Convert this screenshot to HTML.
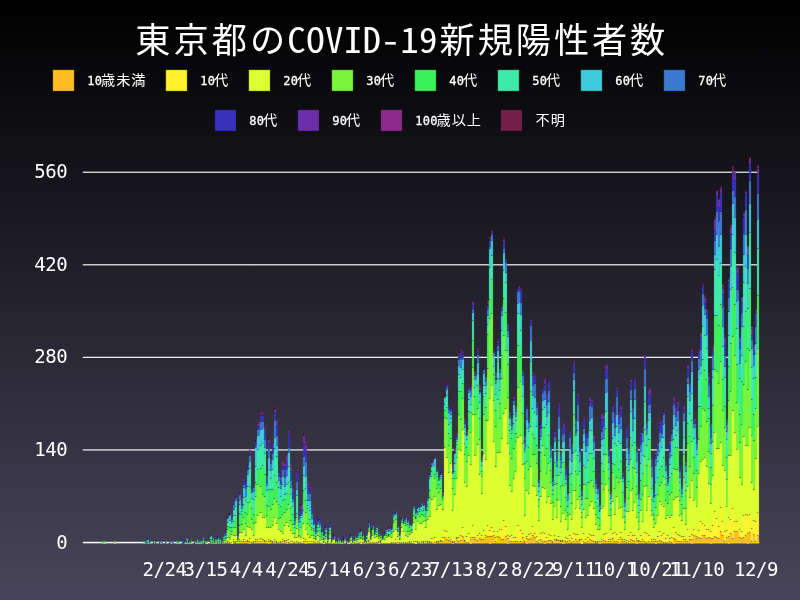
<!DOCTYPE html>
<html lang="ja"><head><meta charset="utf-8"><title>東京都のCOVID-19新規陽性者数</title>
<style>
html,body{margin:0;padding:0;background:#000}
body{width:800px;height:600px;overflow:hidden;position:relative}
svg{display:block;position:absolute;left:0;top:0}
text{fill:#fff;text-anchor:middle;white-space:pre}
.k{font-family:'Noto Sans Mono CJK JP','Noto Sans CJK JP','IPAGothic',sans-serif}
.l{font-family:'Noto Sans Mono CJK JP','Liberation Mono','Noto Sans CJK JP',monospace}
.d{font-family:'DejaVu Sans Mono','Liberation Mono',monospace}
</style></head><body>
<svg width="800" height="600" viewBox="0 0 800 600">
<defs><linearGradient id="bg" x1="0" y1="0" x2="0" y2="1"><stop offset="0" stop-color="#000"/><stop offset="1" stop-color="#48455a"/></linearGradient><filter id="bl" x="0" y="0" width="800" height="600" filterUnits="userSpaceOnUse"><feConvolveMatrix order="3" kernelMatrix="0.0064 0.0672 0.0064 0.0672 0.7056 0.0672 0.0064 0.0672 0.0064" edgeMode="none" preserveAlpha="false"/></filter></defs>
<rect width="800" height="600" fill="url(#bg)"/>
<g fill="#fff">
<rect x="82.8" y="449.31" width="676.2" height="1.25" fill-opacity="0.92"/>
<rect x="82.8" y="356.74" width="676.2" height="1.25" fill-opacity="0.92"/>
<rect x="82.8" y="264.18" width="676.2" height="1.25" fill-opacity="0.92"/>
<rect x="82.8" y="171.61" width="676.2" height="1.25" fill-opacity="0.92"/>
<rect x="82.8" y="541.8" width="676.4" height="1.5"/>
</g>
<g filter="url(#bl)">
<path d="M212 543.6v-0.66h2v0.66zM227 543.1v-0.66h2v0.66zM229 543.1v-0.66h2v0.66zM233 543.1v-1.98h2v1.98zM235 543.1v-0.66h2v0.66zM239 543.1v-1.98h2v1.98zM241 543.1v-1.98h2v1.98zM243 543.1v-1.32h2v1.32zM245 543.1v-1.32h2v1.32zM247 543.1v-1.98h2v1.98zM249 544.1v-2.98h2v2.98zM253 543.1v-0.66h2v0.66zM255 543.1v-1.32h2v1.32zM257 543.1v-1.32h3v1.32zM260 543.1v-1.98h2v1.98zM262 543.1v-3.31h2v3.31zM264 543.1v-1.98h2v1.98zM268 544.1v-2.32h2v2.32zM270 543.1v-1.98h2v1.98zM272 543.1v-0.66h2v0.66zM274 543.1v-1.98h2v1.98zM276 543.1v-0.66h2v0.66zM280 543.1v-0.66h2v0.66zM282 543.1v-1.98h2v1.98zM284 543.1v-1.32h2v1.32zM286 544.1v-1.66h2v1.66zM288 543.1v-0.66h2v0.66zM292 543.1v-1.98h2v1.98zM294 543.1v-0.66h2v0.66zM296 543.1v-1.98h2v1.98zM300 543.1v-0.66h3v0.66zM303 543.1v-1.32h2v1.32zM305 544.1v-2.32h2v2.32zM313 543.1v-1.98h2v1.98zM317 543.1v-1.32h2v1.32zM331 543.6v-0.66h2v0.66zM346 543.9v-0.7h2v0.7zM358 543.1v-0.66h2v0.66zM362 543.1v-0.66h2v0.66zM368 543.1v-1.32h2v1.32zM374 543.1v-0.66h2v0.66zM378 544.1v-1.66h2v1.66zM380 543.1v-0.66h2v0.66zM393 543.1v-0.66h2v0.66zM395 543.1v-0.66h2v0.66zM397 544.1v-1.66h2v1.66zM403 543.1v-0.66h2v0.66zM409 543.1v-0.66h2v0.66zM417 543.1v-0.66h2v0.66zM421 543.1v-1.32h2v1.32zM423 543.1v-0.66h2v0.66zM427 543.1v-0.66h2v0.66zM429 543.1v-0.66h2v0.66zM431 543.1v-0.66h3v0.66zM434 544.1v-1.66h2v1.66zM436 543.1v-0.66h2v0.66zM438 543.1v-0.66h2v0.66zM440 543.1v-1.98h2v1.98zM442 543.1v-1.32h2v1.32zM444 543.1v-5.29h2v5.29zM446 543.1v-3.31h2v3.31zM448 543.1v-2.64h2v2.64zM450 543.1v-1.98h2v1.98zM452 544.1v-1.66h2v1.66zM454 543.1v-0.66h2v0.66zM456 543.1v-4.63h2v4.63zM458 543.1v-1.98h2v1.98zM460 543.1v-2.64h2v2.64zM462 543.1v-6.61h2v6.61zM464 543.1v-1.32h2v1.32zM466 543.1v-0.66h2v0.66zM468 543.1v-0.66h2v0.66zM470 544.1v-4.31h2v4.31zM472 543.1v-5.95h2v5.95zM474 543.1v-3.97h3v3.97zM477 543.1v-2.64h2v2.64zM479 543.1v-4.63h2v4.63zM481 543.1v-3.97h2v3.97zM483 543.1v-3.31h2v3.31zM485 543.1v-5.29h2v5.29zM487 543.1v-6.61h2v6.61zM489 544.1v-7.61h2v7.61zM491 543.1v-6.61h2v6.61zM493 543.1v-7.27h2v7.27zM495 543.1v-1.32h2v1.32zM497 543.1v-6.61h2v6.61zM499 543.1v-5.95h2v5.95zM501 543.1v-3.97h2v3.97zM503 543.1v-3.97h2v3.97zM505 543.1v-6.61h2v6.61zM507 544.1v-5.63h2v5.63zM509 543.1v-1.32h2v1.32zM511 543.1v-1.32h2v1.32zM513 543.1v-1.98h2v1.98zM515 543.1v-1.32h2v1.32zM517 543.1v-1.98h3v1.98zM520 543.1v-1.98h2v1.98zM522 543.1v-5.95h2v5.95zM524 543.1v-0.66h2v0.66zM526 544.1v-5.63h2v5.63zM528 543.1v-3.31h2v3.31zM530 543.1v-4.63h2v4.63zM532 543.1v-7.93h2v7.93zM534 543.1v-5.29h2v5.29zM536 543.1v-1.32h2v1.32zM538 543.1v-0.66h2v0.66zM540 543.1v-3.31h2v3.31zM542 543.1v-1.32h2v1.32zM544 544.1v-2.98h2v2.98zM546 543.1v-1.32h2v1.32zM548 543.1v-2.64h2v2.64zM550 543.1v-2.64h2v2.64zM552 543.1v-0.66h2v0.66zM554 543.1v-3.31h2v3.31zM556 543.1v-2.64h2v2.64zM558 543.1v-2.64h2v2.64zM560 543.1v-1.32h2v1.32zM562 544.1v-2.32h3v2.32zM565 543.1v-1.32h2v1.32zM567 543.1v-1.32h2v1.32zM569 543.1v-2.64h2v2.64zM571 543.1v-0.66h2v0.66zM573 543.1v-1.98h2v1.98zM575 543.1v-3.97h2v3.97zM577 543.1v-1.98h2v1.98zM579 543.1v-2.64h2v2.64zM583 543.1v-1.32h2v1.32zM585 543.1v-0.66h2v0.66zM587 543.1v-1.98h2v1.98zM589 543.1v-3.31h2v3.31zM591 543.1v-2.64h2v2.64zM593 543.1v-1.98h2v1.98zM595 543.1v-0.66h2v0.66zM597 543.1v-0.66h2v0.66zM599 544.1v-2.32h2v2.32zM601 543.1v-1.98h2v1.98zM603 543.1v-2.64h2v2.64zM605 543.1v-1.98h3v1.98zM608 543.1v-1.32h2v1.32zM610 543.1v-1.32h2v1.32zM612 543.1v-4.63h2v4.63zM614 543.1v-1.98h2v1.98zM616 543.1v-1.32h2v1.32zM618 544.1v-1.66h2v1.66zM620 543.1v-5.29h2v5.29zM622 543.1v-1.98h2v1.98zM624 543.1v-1.32h2v1.32zM626 543.1v-0.66h2v0.66zM628 543.1v-1.98h2v1.98zM630 543.1v-3.97h2v3.97zM632 543.1v-2.64h2v2.64zM634 543.1v-1.32h2v1.32zM636 544.1v-3.64h2v3.64zM638 543.1v-1.32h2v1.32zM640 543.1v-1.98h2v1.98zM642 543.1v-1.98h2v1.98zM644 543.1v-1.32h2v1.32zM646 543.1v-0.66h2v0.66zM648 543.1v-1.32h3v1.32zM651 543.1v-1.32h2v1.32zM653 543.1v-1.32h2v1.32zM655 544.1v-2.32h2v2.32zM657 543.1v-1.98h2v1.98zM659 543.1v-2.64h2v2.64zM661 543.1v-1.98h2v1.98zM663 543.1v-0.66h2v0.66zM665 543.1v-0.66h2v0.66zM667 543.1v-0.66h2v0.66zM669 543.1v-1.98h2v1.98zM671 543.1v-0.66h2v0.66zM673 544.1v-5.63h2v5.63zM675 543.1v-3.31h2v3.31zM677 543.1v-1.32h2v1.32zM679 543.1v-1.98h2v1.98zM681 543.1v-1.98h2v1.98zM683 543.1v-3.31h2v3.31zM685 543.1v-1.98h2v1.98zM687 543.1v-1.98h2v1.98zM689 543.1v-3.97h2v3.97zM691 544.1v-4.31h2v4.31zM693 543.1v-7.93h3v7.93zM696 543.1v-4.63h2v4.63zM698 543.1v-5.29h2v5.29zM700 543.1v-4.63h2v4.63zM702 543.1v-7.27h2v7.27zM704 543.1v-7.27h2v7.27zM706 543.1v-4.63h2v4.63zM708 543.1v-5.95h2v5.95zM710 544.1v-5.63h2v5.63zM712 543.1v-4.63h2v4.63zM714 543.1v-6.61h2v6.61zM716 543.1v-5.95h2v5.95zM718 543.1v-4.63h2v4.63zM720 543.1v-11.24h2v11.24zM722 543.1v-7.27h2v7.27zM724 543.1v-1.98h2v1.98zM726 543.1v-5.29h2v5.29zM728 544.1v-7.61h2v7.61zM730 543.1v-9.92h2v9.92zM732 543.1v-4.63h2v4.63zM734 543.1v-11.24h2v11.24zM736 543.1v-11.24h3v11.24zM739 543.1v-5.29h2v5.29zM741 543.1v-4.63h2v4.63zM743 543.1v-5.29h2v5.29zM745 543.1v-7.27h2v7.27zM747 544.1v-10.26h2v10.26zM749 543.1v-10.58h2v10.58zM751 543.1v-1.98h2v1.98zM753 543.1v-8.6h2v8.6zM755 543.1v-1.98h2v1.98zM757 543.1v-7.27h2v7.27z" fill="#FEBE24"/>
<path d="M225 543.1v-0.66h2v0.66zM227 542.44v-0.66h2v0.66zM231 544.1v-1.66h2v1.66zM233 541.12v-1.98h2v1.98zM235 542.44v-0.66h2v0.66zM239 541.12v-1.32h2v1.32zM243 541.78v-1.98h2v1.98zM245 541.78v-0.66h2v0.66zM247 541.12v-0.66h2v0.66zM249 541.12v-2.64h2v2.64zM251 543.1v-0.66h2v0.66zM253 542.44v-0.66h2v0.66zM255 541.78v-1.98h2v1.98zM257 541.78v-2.64h3v2.64zM260 541.12v-2.64h2v2.64zM262 539.79v-0.66h2v0.66zM264 541.12v-0.66h2v0.66zM266 543.1v-1.32h2v1.32zM268 541.78v-1.98h2v1.98zM270 541.12v-0.66h2v0.66zM272 542.44v-0.66h2v0.66zM274 541.12v-1.32h2v1.32zM276 542.44v-0.66h2v0.66zM278 543.1v-0.66h2v0.66zM280 542.44v-1.32h2v1.32zM282 541.12v-1.32h2v1.32zM284 541.78v-1.32h2v1.32zM286 542.44v-1.98h2v1.98zM288 542.44v-2.64h2v2.64zM290 543.1v-1.98h2v1.98zM296 541.12v-3.31h2v3.31zM298 543.1v-0.66h2v0.66zM303 541.78v-3.31h2v3.31zM305 541.78v-1.98h2v1.98zM307 543.1v-1.98h2v1.98zM309 543.1v-1.98h2v1.98zM311 543.1v-1.32h2v1.32zM315 543.1v-0.66h2v0.66zM317 541.78v-0.66h2v0.66zM319 543.1v-0.66h2v0.66zM325 543.1v-0.66h2v0.66zM331 542.94v-0.66h2v0.66zM337 543.1v-0.66h2v0.66zM341 543.6v-0.66h2v0.66zM343 543.1v-0.66h3v0.66zM354 543.1v-0.66h2v0.66zM360 544.1v-1.66h2v1.66zM366 543.1v-0.66h2v0.66zM368 541.78v-1.32h2v1.32zM370 543.1v-0.66h2v0.66zM372 543.1v-0.66h2v0.66zM376 543.1v-0.66h2v0.66zM378 542.44v-0.66h2v0.66zM380 542.44v-0.66h2v0.66zM391 543.1v-0.66h2v0.66zM395 542.44v-3.31h2v3.31zM399 543.1v-0.66h2v0.66zM401 543.1v-0.66h2v0.66zM405 543.1v-0.66h2v0.66zM407 543.1v-0.66h2v0.66zM409 542.44v-0.66h2v0.66zM411 543.1v-0.66h2v0.66zM413 543.1v-1.32h2v1.32zM415 544.1v-2.32h2v2.32zM417 542.44v-0.66h2v0.66zM419 543.1v-0.66h2v0.66zM421 541.78v-0.66h2v0.66zM423 542.44v-1.32h2v1.32zM425 543.1v-1.32h2v1.32zM427 542.44v-1.32h2v1.32zM429 542.44v-0.66h2v0.66zM431 542.44v-3.97h3v3.97zM434 542.44v-4.63h2v4.63zM436 542.44v-0.66h2v0.66zM438 542.44v-0.66h2v0.66zM440 541.12v-0.66h2v0.66zM442 541.78v-3.97h2v3.97zM444 537.81v-7.27h2v7.27zM446 539.79v-7.93h2v7.93zM448 540.46v-2.64h2v2.64zM450 541.12v-1.98h2v1.98zM452 542.44v-1.32h2v1.32zM454 542.44v-1.32h2v1.32zM456 538.47v-1.32h2v1.32zM458 541.12v-3.97h2v3.97zM460 540.46v-4.63h2v4.63zM462 536.49v-9.26h2v9.26zM464 541.78v-1.32h2v1.32zM466 542.44v-5.95h2v5.95zM468 542.44v-9.26h2v9.26zM470 539.79v-2.64h2v2.64zM472 537.15v-11.9h2v11.9zM474 539.13v-1.98h3v1.98zM477 540.46v-5.29h2v5.29zM479 538.47v-4.63h2v4.63zM481 539.13v-3.97h2v3.97zM483 539.79v-9.26h2v9.26zM485 537.81v-1.98h2v1.98zM487 536.49v-10.58h2v10.58zM489 536.49v-5.95h2v5.95zM491 536.49v-9.26h2v9.26zM493 535.83v-4.63h2v4.63zM495 541.78v-3.97h2v3.97zM497 536.49v-5.29h2v5.29zM499 537.15v-7.27h2v7.27zM501 539.13v-9.26h2v9.26zM503 539.13v-18.51h2v18.51zM505 536.49v-9.92h2v9.92zM507 538.47v-3.31h2v3.31zM509 541.78v-5.29h2v5.29zM511 541.78v-5.95h2v5.95zM513 541.12v-3.97h2v3.97zM515 541.78v-3.97h2v3.97zM517 541.12v-15.87h3v15.87zM520 541.12v-10.58h2v10.58zM522 537.15v-3.31h2v3.31zM524 542.44v-1.32h2v1.32zM526 538.47v-1.98h2v1.98zM528 539.79v-5.29h2v5.29zM530 538.47v-5.29h2v5.29zM532 535.17v-8.6h2v8.6zM534 537.81v-4.63h2v4.63zM536 541.78v-5.29h2v5.29zM538 542.44v-1.98h2v1.98zM540 539.79v-6.61h2v6.61zM542 541.78v-9.26h2v9.26zM544 541.12v-7.93h2v7.93zM546 541.78v-3.97h2v3.97zM548 540.46v-5.95h2v5.95zM550 540.46v-4.63h2v4.63zM552 542.44v-1.32h2v1.32zM554 539.79v-4.63h2v4.63zM556 540.46v-1.32h2v1.32zM558 540.46v-3.97h2v3.97zM560 541.78v-1.32h2v1.32zM562 541.78v-1.32h3v1.32zM565 541.78v-3.97h2v3.97zM567 541.78v-3.31h2v3.31zM569 540.46v-4.63h2v4.63zM571 542.44v-3.97h2v3.97zM573 541.12v-7.93h2v7.93zM575 539.13v-4.63h2v4.63zM577 541.12v-6.61h2v6.61zM579 540.46v-1.32h2v1.32zM581 544.1v-4.31h2v4.31zM583 541.78v-8.6h2v8.6zM585 542.44v-2.64h2v2.64zM587 541.12v-3.31h2v3.31zM589 539.79v-5.29h2v5.29zM591 540.46v-5.29h2v5.29zM593 541.12v-5.95h2v5.95zM595 542.44v-1.32h2v1.32zM597 542.44v-1.32h2v1.32zM599 541.78v-0.66h2v0.66zM601 541.12v-1.98h2v1.98zM603 540.46v-5.95h2v5.95zM605 541.12v-7.93h3v7.93zM608 541.78v-2.64h2v2.64zM610 541.78v-1.98h2v1.98zM612 538.47v-5.29h2v5.29zM614 541.12v-8.6h2v8.6zM616 541.78v-7.27h2v7.27zM618 542.44v-3.31h2v3.31zM620 537.81v-5.29h2v5.29zM622 541.12v-1.98h2v1.98zM624 541.78v-1.98h2v1.98zM626 542.44v-1.98h2v1.98zM628 541.12v-5.29h2v5.29zM630 539.13v-6.61h2v6.61zM632 540.46v-5.29h2v5.29zM634 541.78v-5.95h2v5.95zM636 540.46v-1.98h2v1.98zM638 541.78v-1.32h2v1.32zM640 541.12v-5.29h2v5.29zM642 541.12v-1.32h2v1.32zM644 541.78v-9.26h2v9.26zM646 542.44v-9.26h2v9.26zM648 541.78v-5.95h3v5.95zM651 541.78v-1.98h2v1.98zM653 541.78v-2.64h2v2.64zM655 541.78v-2.64h2v2.64zM657 541.12v-4.63h2v4.63zM659 540.46v-9.26h2v9.26zM661 541.12v-5.95h2v5.95zM663 542.44v-8.6h2v8.6zM665 542.44v-3.97h2v3.97zM667 542.44v-6.61h2v6.61zM669 541.12v-2.64h2v2.64zM671 542.44v-5.29h2v5.29zM673 538.47v-11.24h2v11.24zM675 539.79v-7.27h2v7.27zM677 541.78v-7.27h2v7.27zM679 541.12v-5.29h2v5.29zM681 541.12v-4.63h2v4.63zM683 539.79v-3.31h2v3.31zM685 541.12v-1.32h2v1.32zM687 541.12v-11.24h2v11.24zM689 539.13v-2.64h2v2.64zM691 539.79v-5.29h2v5.29zM693 535.17v-5.95h3v5.95zM696 538.47v-1.98h2v1.98zM698 537.81v-7.27h2v7.27zM700 538.47v-16.53h2v16.53zM702 535.83v-11.9h2v11.9zM704 535.83v-10.58h2v10.58zM706 538.47v-8.6h2v8.6zM708 537.15v-7.27h2v7.27zM710 538.47v-7.27h2v7.27zM712 538.47v-13.22h2v13.22zM714 536.49v-25.13h2v25.13zM716 537.15v-18.51h2v18.51zM718 538.47v-11.9h2v11.9zM720 531.86v-24.46h2v24.46zM722 535.83v-13.89h2v13.89zM724 541.12v-9.92h2v9.92zM726 537.81v-7.27h2v7.27zM728 536.49v-18.51h2v18.51zM730 533.18v-13.22h2v13.22zM732 538.47v-29.75h2v29.75zM734 531.86v-10.58h2v10.58zM736 531.86v-10.58h3v10.58zM739 537.81v-8.6h2v8.6zM741 538.47v-7.27h2v7.27zM743 537.81v-21.82h2v21.82zM745 535.83v-21.16h2v21.16zM747 533.84v-17.85h2v17.85zM749 532.52v-18.51h2v18.51zM751 541.12v-12.56h2v12.56zM753 534.5v-13.89h2v13.89zM755 541.12v-19.84h2v19.84zM757 535.83v-23.8h2v23.8z" fill="#FFF22D"/>
<path d="M159 543.9v-0.7h2v0.7zM165 543.9v-0.7h2v0.7zM186 543.6v-0.66h2v0.66zM190 543.6v-0.66h2v0.66zM196 543.6v-0.66h2v0.66zM206 543.9v-1.05h2v1.05zM210 543.1v-0.66h2v0.66zM217 543.1v-0.66h2v0.66zM223 543.1v-0.66h2v0.66zM225 542.44v-1.98h2v1.98zM227 541.78v-3.97h2v3.97zM229 542.44v-3.31h2v3.31zM231 542.44v-7.93h2v7.93zM233 539.13v-3.31h2v3.31zM235 541.78v-6.61h2v6.61zM237 543.1v-1.32h2v1.32zM239 539.79v-7.27h2v7.27zM241 541.12v-8.6h2v8.6zM243 539.79v-10.58h2v10.58zM245 541.12v-5.95h2v5.95zM247 540.46v-13.89h2v13.89zM249 538.47v-11.24h2v11.24zM251 542.44v-13.22h2v13.22zM253 541.78v-6.61h2v6.61zM255 539.79v-17.19h2v17.19zM257 539.13v-23.14h3v23.14zM260 538.47v-25.79h2v25.79zM262 539.13v-21.16h2v21.16zM264 540.46v-22.48h2v22.48zM266 541.78v-13.89h2v13.89zM268 539.79v-12.56h2v12.56zM270 540.46v-13.22h2v13.22zM272 541.78v-16.53h2v16.53zM274 539.79v-21.82h2v21.82zM276 541.78v-18.51h2v18.51zM278 542.44v-13.22h2v13.22zM280 541.12v-9.26h2v9.26zM282 539.79v-6.61h2v6.61zM284 540.46v-15.21h2v15.21zM286 540.46v-17.85h2v17.85zM288 539.79v-13.22h2v13.22zM290 541.12v-10.58h2v10.58zM292 541.12v-7.27h2v7.27zM294 542.44v-4.63h2v4.63zM296 537.81v-9.26h2v9.26zM298 542.44v-5.95h2v5.95zM300 542.44v-5.29h3v5.29zM303 538.47v-14.55h2v14.55zM305 539.79v-9.92h2v9.92zM307 541.12v-6.61h2v6.61zM309 541.12v-3.31h2v3.31zM311 541.78v-5.95h2v5.95zM313 541.12v-2.64h2v2.64zM315 542.44v-2.64h2v2.64zM317 541.12v-5.29h2v5.29zM319 542.44v-1.98h2v1.98zM321 543.1v-3.31h2v3.31zM323 544.1v-1.66h2v1.66zM325 542.44v-3.97h2v3.97zM327 543.1v-0.66h2v0.66zM329 543.1v-4.63h2v4.63zM331 542.28v-0.66h2v0.66zM333 543.1v-3.97h2v3.97zM335 543.6v-0.66h2v0.66zM337 542.44v-0.66h2v0.66zM339 543.6v-0.66h2v0.66zM341 542.94v-0.66h2v0.66zM343 542.44v-0.66h3v0.66zM346 543.2v-0.7h2v0.7zM348 543.9v-1.05h2v1.05zM350 543.1v-2.64h2v2.64zM352 543.6v-1.32h2v1.32zM354 542.44v-1.98h2v1.98zM356 543.1v-1.32h2v1.32zM358 542.44v-3.31h2v3.31zM360 542.44v-3.97h2v3.97zM362 542.44v-3.31h2v3.31zM364 543.6v-1.32h2v1.32zM366 542.44v-1.32h2v1.32zM368 540.46v-8.6h2v8.6zM370 542.44v-3.31h2v3.31zM372 542.44v-7.27h2v7.27zM374 542.44v-4.63h2v4.63zM376 542.44v-5.95h2v5.95zM378 541.78v-3.31h2v3.31zM380 541.78v-1.32h2v1.32zM382 543.1v-3.97h2v3.97zM384 543.1v-3.31h2v3.31zM386 543.1v-5.29h2v5.29zM388 543.1v-6.61h3v6.61zM391 542.44v-4.63h2v4.63zM393 542.44v-10.58h2v10.58zM395 539.13v-9.92h2v9.92zM397 542.44v-5.95h2v5.95zM399 542.44v-2.64h2v2.64zM401 542.44v-14.55h2v14.55zM403 542.44v-10.58h2v10.58zM405 542.44v-7.27h2v7.27zM407 542.44v-5.95h2v5.95zM409 541.78v-7.27h2v7.27zM411 542.44v-9.92h2v9.92zM413 541.78v-19.17h2v19.17zM415 541.78v-12.56h2v12.56zM417 541.78v-20.5h2v20.5zM419 542.44v-18.51h2v18.51zM421 541.12v-17.19h2v17.19zM423 541.12v-19.84h2v19.84zM425 541.78v-14.55h2v14.55zM427 541.12v-21.82h2v21.82zM429 541.78v-25.13h2v25.13zM431 538.47v-39.01h3v39.01zM434 537.81v-41.66h2v41.66zM436 541.78v-32.4h2v32.4zM438 541.78v-36.37h2v36.37zM440 540.46v-35.7h2v35.7zM442 537.81v-28.43h2v28.43zM444 530.54v-82.65h2v82.65zM446 531.86v-74.05h2v74.05zM448 537.81v-65.46h2v65.46zM450 539.13v-76.04h2v76.04zM452 541.12v-31.08h2v31.08zM454 541.12v-46.28h2v46.28zM456 537.15v-58.19h2v58.19zM458 537.15v-87.94h2v87.94zM460 535.83v-85.29h2v85.29zM462 527.23v-97.86h2v97.86zM464 540.46v-57.52h2v57.52zM466 536.49v-50.25h2v50.25zM468 533.18v-77.36h2v77.36zM470 537.15v-72.73h2v72.73zM472 525.25v-110.42h2v110.42zM474 537.15v-81.99h3v81.99zM477 535.17v-90.58h2v90.58zM479 533.84v-59.51h2v59.51zM481 535.17v-41.66h2v41.66zM483 530.54v-77.36h2v77.36zM485 535.83v-76.04h2v76.04zM487 525.91v-105.13h2v105.13zM489 530.54v-132.24h2v132.24zM491 527.23v-142.16h2v142.16zM493 531.2v-89.26h2v89.26zM495 537.81v-71.41h2v71.41zM497 531.2v-78.68h2v78.68zM499 529.88v-77.36h2v77.36zM501 529.88v-91.25h2v91.25zM503 520.62v-107.11h2v107.11zM505 526.57v-118.35h2v118.35zM507 535.17v-91.91h2v91.91zM509 536.49v-50.91h2v50.91zM511 535.83v-44.3h2v44.3zM513 537.15v-58.19h2v58.19zM515 537.81v-66.78h2v66.78zM517 525.25v-87.94h3v87.94zM520 530.54v-94.55h2v94.55zM522 533.84v-69.43h2v69.43zM524 541.12v-25.79h2v25.79zM526 536.49v-46.28h2v46.28zM528 534.5v-40.99h2v40.99zM530 533.18v-66.78h2v66.78zM532 526.57v-40.99h2v40.99zM534 533.18v-46.28h2v46.28zM536 536.49v-40.99h2v40.99zM538 540.46v-19.84h2v19.84zM540 533.18v-36.37h2v36.37zM542 532.52v-44.96h2v44.96zM544 533.18v-44.96h2v44.96zM546 537.81v-35.7h2v35.7zM548 534.5v-38.35h2v38.35zM550 535.83v-32.4h2v32.4zM552 541.12v-21.82h2v21.82zM554 535.17v-29.09h2v29.09zM556 539.13v-21.82h2v21.82zM558 536.49v-36.37h2v36.37zM560 540.46v-19.17h2v19.17zM562 540.46v-27.11h3v27.11zM565 537.81v-17.85h2v17.85zM567 538.47v-8.6h2v8.6zM569 535.83v-21.16h2v21.16zM571 538.47v-19.17h2v19.17zM573 533.18v-42.98h2v42.98zM575 534.5v-26.45h2v26.45zM577 534.5v-35.04h2v35.04zM579 539.13v-30.42h2v30.42zM581 539.79v-11.9h2v11.9zM583 533.18v-23.8h2v23.8zM585 539.79v-21.82h2v21.82zM587 537.81v-22.48h2v22.48zM589 534.5v-29.09h2v29.09zM591 535.17v-33.72h2v33.72zM593 535.17v-26.45h2v26.45zM595 541.12v-16.53h2v16.53zM597 541.12v-11.24h2v11.24zM599 541.12v-11.9h2v11.9zM601 539.13v-30.42h2v30.42zM603 534.5v-28.43h2v28.43zM605 533.18v-48.27h3v48.27zM608 539.13v-23.8h2v23.8zM610 539.79v-10.58h2v10.58zM612 533.18v-31.74h2v31.74zM614 532.52v-17.85h2v17.85zM616 534.5v-37.69h2v37.69zM618 539.13v-31.08h2v31.08zM620 532.52v-25.13h2v25.13zM622 539.13v-21.16h2v21.16zM624 539.79v-10.58h2v10.58zM626 540.46v-29.09h2v29.09zM628 535.83v-24.46h2v24.46zM630 532.52v-41.66h2v41.66zM632 535.17v-24.46h2v24.46zM634 535.83v-33.72h2v33.72zM636 538.47v-21.16h2v21.16zM638 540.46v-10.58h2v10.58zM640 535.83v-25.13h2v25.13zM642 539.79v-17.85h2v17.85zM644 532.52v-45.62h2v45.62zM646 533.18v-23.14h2v23.14zM648 535.83v-39.67h3v39.67zM651 539.79v-23.8h2v23.8zM653 539.13v-11.24h2v11.24zM655 539.13v-15.87h2v15.87zM657 536.49v-21.16h2v21.16zM659 531.2v-29.75h2v29.75zM661 535.17v-31.08h2v31.08zM663 533.84v-27.11h2v27.11zM665 538.47v-19.84h2v19.84zM667 535.83v-20.5h2v20.5zM669 538.47v-21.16h2v21.16zM671 537.15v-21.82h2v21.82zM673 527.23v-27.77h2v27.77zM675 532.52v-35.04h2v35.04zM677 534.5v-37.69h2v37.69zM679 535.83v-19.84h2v19.84zM681 536.49v-15.87h2v15.87zM683 536.49v-27.77h2v27.77zM685 539.79v-15.21h2v15.21zM687 529.88v-42.98h2v42.98zM689 536.49v-39.01h2v39.01zM691 534.5v-54.22h2v54.22zM693 529.21v-29.09h3v29.09zM696 536.49v-30.42h2v30.42zM698 530.54v-56.86h2v56.86zM700 521.94v-60.17h2v60.17zM702 523.93v-64.8h2v64.8zM704 525.25v-68.1h2v68.1zM706 529.88v-63.48h2v63.48zM708 529.88v-46.28h2v46.28zM710 531.2v-27.77h2v27.77zM712 525.25v-49.59h2v49.59zM714 511.36v-79.34h2v79.34zM716 518.64v-70.09h2v70.09zM718 526.57v-78.02h2v78.02zM720 507.4v-64.8h2v64.8zM722 521.94v-56.2h2v56.2zM724 531.2v-60.83h2v60.83zM726 530.54v-24.46h2v24.46zM728 517.97v-62.15h2v62.15zM730 519.96v-64.8h2v64.8zM732 508.72v-97.86h2v97.86zM734 521.28v-88.6h2v88.6zM736 521.28v-72.07h3v72.07zM739 529.21v-51.57h2v51.57zM741 531.2v-46.95h2v46.95zM743 515.99v-79.34h2v79.34zM745 514.67v-68.76h2v68.76zM747 515.99v-70.75h2v70.75zM749 514.01v-86.62h2v86.62zM751 528.55v-45.62h2v45.62zM753 520.62v-31.08h2v31.08zM755 521.28v-62.81h2v62.81zM757 512.02v-85.96h2v85.96z" fill="#DDFF33"/>
<path d="M104 543.9v-2.1h2v2.1zM114 543.9v-2.1h2v2.1zM143 543.9v-2.1h2v2.1zM153 543.9v-0.7h2v0.7zM178 543.9v-1.05h2v1.05zM184 543.6v-0.66h2v0.66zM190 542.94v-1.32h2v1.32zM196 542.94v-0.66h2v0.66zM202 543.1v-0.66h2v0.66zM206 542.85v-1.05h2v1.05zM210 542.44v-0.66h2v0.66zM214 543.6v-0.66h3v0.66zM217 542.44v-1.32h2v1.32zM219 543.6v-1.32h2v1.32zM223 542.44v-1.98h2v1.98zM225 540.46v-1.98h2v1.98zM227 537.81v-7.93h2v7.93zM229 539.13v-1.98h2v1.98zM231 534.5v-3.31h2v3.31zM233 535.83v-7.93h2v7.93zM235 535.17v-7.27h2v7.27zM237 541.78v-0.66h2v0.66zM239 532.52v-7.27h2v7.27zM241 532.52v-7.93h2v7.93zM243 529.21v-11.24h2v11.24zM245 535.17v-11.24h2v11.24zM247 526.57v-12.56h2v12.56zM249 527.23v-25.13h2v25.13zM251 529.21v-9.92h2v9.92zM253 535.17v-11.9h2v11.9zM255 522.6v-26.45h2v26.45zM257 515.99v-31.74h3v31.74zM260 512.68v-26.45h2v26.45zM262 517.97v-23.14h2v23.14zM264 517.97v-21.16h2v21.16zM266 527.89v-11.9h2v11.9zM268 527.23v-20.5h2v20.5zM270 527.23v-17.85h2v17.85zM272 525.25v-20.5h2v20.5zM274 517.97v-19.84h2v19.84zM276 523.26v-21.82h2v21.82zM278 529.21v-10.58h2v10.58zM280 531.86v-13.89h2v13.89zM282 533.18v-19.17h2v19.17zM284 525.25v-12.56h2v12.56zM286 522.6v-13.22h2v13.22zM288 526.57v-22.48h2v22.48zM290 530.54v-9.92h2v9.92zM292 533.84v-9.26h2v9.26zM294 537.81v-3.97h2v3.97zM296 528.55v-10.58h2v10.58zM298 536.49v-1.32h2v1.32zM300 537.15v-9.26h3v9.26zM303 523.93v-13.89h2v13.89zM305 529.88v-17.19h2v17.19zM307 534.5v-11.24h2v11.24zM309 537.81v-12.56h2v12.56zM311 535.83v-5.95h2v5.95zM313 538.47v-3.31h2v3.31zM315 539.79v-1.32h2v1.32zM317 535.83v-3.97h2v3.97zM319 540.46v-3.97h2v3.97zM321 539.79v-2.64h2v2.64zM323 542.44v-1.32h2v1.32zM325 538.47v-1.98h2v1.98zM327 542.44v-0.66h2v0.66zM329 538.47v-4.63h2v4.63zM333 539.13v-0.66h2v0.66zM335 542.94v-0.66h2v0.66zM337 541.78v-0.66h2v0.66zM339 542.94v-0.66h2v0.66zM341 542.28v-0.66h2v0.66zM343 541.78v-1.32h3v1.32zM350 540.46v-2.64h2v2.64zM352 542.28v-0.66h2v0.66zM354 540.46v-1.32h2v1.32zM356 541.78v-0.66h2v0.66zM358 539.13v-1.98h2v1.98zM360 538.47v-1.32h2v1.32zM362 539.13v-0.66h2v0.66zM366 541.12v-2.64h2v2.64zM368 531.86v-1.98h2v1.98zM370 539.13v-0.66h2v0.66zM372 535.17v-5.29h2v5.29zM374 537.81v-3.31h2v3.31zM376 536.49v-1.98h2v1.98zM378 538.47v-1.98h2v1.98zM380 540.46v-3.31h2v3.31zM382 539.13v-0.66h2v0.66zM384 539.79v-3.97h2v3.97zM386 537.81v-2.64h2v2.64zM388 536.49v-1.32h3v1.32zM391 537.81v-3.97h2v3.97zM393 531.86v-9.26h2v9.26zM395 529.21v-9.92h2v9.92zM397 536.49v-4.63h2v4.63zM399 539.79v-1.32h2v1.32zM401 527.89v-5.29h2v5.29zM403 531.86v-7.93h2v7.93zM405 535.17v-9.92h2v9.92zM407 536.49v-5.29h2v5.29zM409 534.5v-2.64h2v2.64zM411 532.52v-1.98h2v1.98zM413 522.6v-7.27h2v7.27zM415 529.21v-10.58h2v10.58zM417 521.28v-6.61h2v6.61zM419 523.93v-7.27h2v7.27zM421 523.93v-9.26h2v9.26zM423 521.28v-5.29h2v5.29zM425 527.23v-6.61h2v6.61zM427 519.3v-8.6h2v8.6zM429 516.65v-19.17h2v19.17zM431 499.46v-22.48h3v22.48zM434 496.15v-17.19h2v17.19zM436 509.38v-20.5h2v20.5zM438 505.41v-12.56h2v12.56zM440 504.75v-15.87h2v15.87zM442 509.38v-9.92h2v9.92zM444 447.89v-30.42h2v30.42zM446 457.81v-39.67h2v39.67zM448 472.35v-26.45h2v26.45zM450 463.09v-24.46h2v24.46zM452 510.04v-21.16h2v21.16zM454 494.83v-15.87h2v15.87zM456 478.96v-21.82h2v21.82zM458 449.21v-34.38h2v34.38zM460 450.53v-31.08h2v31.08zM462 429.37v-30.42h2v30.42zM464 482.93v-28.43h2v28.43zM466 486.24v-24.46h2v24.46zM468 455.82v-27.77h2v27.77zM470 464.42v-32.4h2v32.4zM472 414.83v-46.95h2v46.95zM474 455.16v-40.33h3v40.33zM477 444.58v-36.37h2v36.37zM479 474.34v-35.04h2v35.04zM481 493.51v-16.53h2v16.53zM483 453.18v-38.35h2v38.35zM485 459.79v-39.01h2v39.01zM487 420.78v-52.23h2v52.23zM489 398.3v-80.01h2v80.01zM491 385.07v-72.07h2v72.07zM493 441.94v-40.99h2v40.99zM495 466.4v-39.67h2v39.67zM497 452.52v-52.9h2v52.9zM499 452.52v-33.72h2v33.72zM501 438.63v-60.17h2v60.17zM503 413.5v-78.02h2v78.02zM505 408.22v-58.19h2v58.19zM507 443.26v-45.62h2v45.62zM509 485.58v-32.4h2v32.4zM511 491.53v-33.06h2v33.06zM513 478.96v-30.42h2v30.42zM515 471.03v-29.09h2v29.09zM517 437.31v-49.59h3v49.59zM520 435.99v-54.88h2v54.88zM522 464.42v-21.16h2v21.16zM524 515.33v-36.37h2v36.37zM526 490.2v-28.43h2v28.43zM528 493.51v-24.46h2v24.46zM530 466.4v-39.67h2v39.67zM532 485.58v-31.08h2v31.08zM534 486.9v-32.4h2v32.4zM536 495.49v-31.74h2v31.74zM538 520.62v-14.55h2v14.55zM540 496.82v-25.79h2v25.79zM542 487.56v-41.66h2v41.66zM544 488.22v-32.4h2v32.4zM546 502.11v-29.09h2v29.09zM548 496.15v-33.06h2v33.06zM550 503.43v-20.5h2v20.5zM552 519.3v-16.53h2v16.53zM554 506.07v-21.82h2v21.82zM556 517.31v-17.85h2v17.85zM558 500.12v-24.46h2v24.46zM560 521.28v-14.55h2v14.55zM562 513.35v-27.77h3v27.77zM565 519.96v-9.92h2v9.92zM567 529.88v-14.55h2v14.55zM569 514.67v-21.82h2v21.82zM571 519.3v-15.87h2v15.87zM573 490.2v-37.69h2v37.69zM575 508.06v-17.85h2v17.85zM577 499.46v-24.46h2v24.46zM579 508.72v-12.56h2v12.56zM581 527.89v-9.92h2v9.92zM583 509.38v-25.13h2v25.13zM585 517.97v-19.84h2v19.84zM587 515.33v-16.53h2v16.53zM589 505.41v-22.48h2v22.48zM591 501.44v-20.5h2v20.5zM593 508.72v-22.48h2v22.48zM595 524.59v-9.92h2v9.92zM597 529.88v-12.56h2v12.56zM599 529.21v-3.97h2v3.97zM601 508.72v-25.13h2v25.13zM603 506.07v-16.53h2v16.53zM605 484.91v-30.42h3v30.42zM608 515.33v-24.46h2v24.46zM610 529.21v-13.89h2v13.89zM612 501.44v-29.09h2v29.09zM614 514.67v-25.79h2v25.79zM616 496.82v-19.17h2v19.17zM618 508.06v-25.13h2v25.13zM620 507.4v-28.43h2v28.43zM622 517.97v-11.9h2v11.9zM624 529.21v-6.61h2v6.61zM626 511.36v-23.8h2v23.8zM628 511.36v-13.22h2v13.22zM630 490.87v-31.74h2v31.74zM632 510.7v-21.82h2v21.82zM634 502.11v-33.72h2v33.72zM636 517.31v-23.14h2v23.14zM638 529.88v-7.93h2v7.93zM640 510.7v-11.24h2v11.24zM642 521.94v-27.77h2v27.77zM644 486.9v-30.42h2v30.42zM646 510.04v-24.46h2v24.46zM648 496.15v-37.03h3v37.03zM651 515.99v-5.29h2v5.29zM653 527.89v-8.6h2v8.6zM655 523.26v-15.87h2v15.87zM657 515.33v-21.16h2v21.16zM659 501.44v-15.87h2v15.87zM661 504.09v-21.16h2v21.16zM663 506.73v-29.75h2v29.75zM665 518.64v-17.85h2v17.85zM667 515.33v-11.9h2v11.9zM669 517.31v-22.48h2v22.48zM671 515.33v-22.48h2v22.48zM673 499.46v-31.08h2v31.08zM675 497.48v-27.77h2v27.77zM677 496.82v-27.11h2v27.11zM679 515.99v-15.21h2v15.21zM681 520.62v-7.27h2v7.27zM683 508.72v-31.08h2v31.08zM685 524.59v-15.87h2v15.87zM687 486.9v-43.64h2v43.64zM689 497.48v-31.08h2v31.08zM691 480.29v-38.35h2v38.35zM693 500.12v-26.45h3v26.45zM696 506.07v-18.51h2v18.51zM698 473.67v-33.72h2v33.72zM700 461.77v-35.04h2v35.04zM702 459.13v-50.91h2v50.91zM704 457.14v-46.28h2v46.28zM706 466.4v-44.96h2v44.96zM708 483.59v-32.4h2v32.4zM710 503.43v-18.51h2v18.51zM712 475.66v-34.38h2v34.38zM714 432.02v-62.15h2v62.15zM716 448.55v-77.36h2v77.36zM718 448.55v-65.46h2v65.46zM720 442.6v-80.67h2v80.67zM722 465.74v-54.88h2v54.88zM724 470.37v-42.98h2v42.98zM726 506.07v-26.45h2v26.45zM728 455.82v-54.88h2v54.88zM730 455.16v-64.14h2v64.14zM732 410.86v-74.72h2v74.72zM734 432.68v-77.36h2v77.36zM736 449.21v-46.28h3v46.28zM739 477.64v-35.04h2v35.04zM741 484.25v-60.17h2v60.17zM743 436.65v-52.23h2v52.23zM745 445.9v-84.63h2v84.63zM747 445.24v-55.54h2v55.54zM749 427.39v-76.7h2v76.7zM751 482.93v-46.95h2v46.95zM753 489.54v-48.93h2v48.93zM755 458.47v-49.59h2v49.59zM757 426.07v-78.02h2v78.02z" fill="#77F53A"/>
<path d="M102 543.9v-2.1h2v2.1zM147 543.6v-0.66h2v0.66zM153 543.2v-0.7h2v0.7zM176 543.9v-2.1h2v2.1zM186 542.94v-1.32h2v1.32zM194 543.9v-0.7h2v0.7zM196 542.28v-0.66h2v0.66zM200 543.9v-1.05h2v1.05zM202 542.44v-1.98h2v1.98zM204 543.9v-0.7h2v0.7zM210 541.78v-2.64h2v2.64zM212 542.94v-1.98h2v1.98zM214 542.94v-1.32h3v1.32zM217 541.12v-1.32h2v1.32zM219 542.28v-0.66h2v0.66zM221 543.9v-0.7h2v0.7zM223 540.46v-1.98h2v1.98zM225 538.47v-0.66h2v0.66zM227 529.88v-3.31h2v3.31zM229 537.15v-9.92h2v9.92zM231 531.2v-3.31h2v3.31zM233 527.89v-6.61h2v6.61zM235 527.89v-11.9h2v11.9zM237 541.12v-1.32h2v1.32zM239 525.25v-11.9h2v11.9zM241 524.59v-10.58h2v10.58zM243 517.97v-13.22h2v13.22zM245 523.93v-11.9h2v11.9zM247 514.01v-11.24h2v11.24zM249 502.11v-15.87h2v15.87zM251 519.3v-11.24h2v11.24zM253 523.26v-9.26h2v9.26zM255 496.15v-13.89h2v13.89zM257 484.25v-15.21h3v15.21zM260 486.24v-17.85h2v17.85zM262 494.83v-29.09h2v29.09zM264 496.82v-22.48h2v22.48zM266 515.99v-10.58h2v10.58zM268 506.73v-17.19h2v17.19zM270 509.38v-19.84h2v19.84zM272 504.75v-15.21h2v15.21zM274 498.14v-22.48h2v22.48zM276 501.44v-19.17h2v19.17zM278 518.64v-13.89h2v13.89zM280 517.97v-11.9h2v11.9zM282 514.01v-13.89h2v13.89zM284 512.68v-13.22h2v13.22zM286 509.38v-15.87h2v15.87zM288 504.09v-21.16h2v21.16zM290 520.62v-11.9h2v11.9zM292 524.59v-9.92h2v9.92zM294 533.84v-5.95h2v5.95zM296 517.97v-4.63h2v4.63zM298 535.17v-5.29h2v5.29zM300 527.89v-5.95h3v5.95zM303 510.04v-19.17h2v19.17zM305 512.68v-11.9h2v11.9zM307 523.26v-14.55h2v14.55zM309 525.25v-5.95h2v5.95zM311 529.88v-1.98h2v1.98zM313 535.17v-4.63h2v4.63zM315 538.47v-1.98h2v1.98zM317 531.86v-4.63h2v4.63zM319 536.49v-5.95h2v5.95zM321 537.15v-2.64h2v2.64zM323 541.12v-1.98h2v1.98zM325 536.49v-3.31h2v3.31zM327 541.78v-0.66h2v0.66zM329 533.84v-3.31h2v3.31zM331 541.62v-0.66h2v0.66zM333 538.47v-0.66h2v0.66zM335 542.28v-0.66h2v0.66zM337 541.12v-0.66h2v0.66zM339 542.28v-1.32h2v1.32zM343 540.46v-0.66h3v0.66zM350 537.81v-0.66h2v0.66zM352 541.62v-0.66h2v0.66zM354 539.13v-0.66h2v0.66zM356 541.12v-1.98h2v1.98zM358 537.15v-1.32h2v1.32zM360 537.15v-1.32h2v1.32zM362 538.47v-1.98h2v1.98zM364 542.28v-0.66h2v0.66zM366 538.47v-0.66h2v0.66zM368 529.88v-1.98h2v1.98zM372 529.88v-0.66h2v0.66zM374 534.5v-0.66h2v0.66zM376 534.5v-3.31h2v3.31zM378 536.49v-0.66h2v0.66zM380 537.15v-1.98h2v1.98zM382 538.47v-0.66h2v0.66zM384 535.83v-0.66h2v0.66zM386 535.17v-1.98h2v1.98zM388 535.17v-0.66h3v0.66zM391 533.84v-2.64h2v2.64zM393 522.6v-1.98h2v1.98zM395 519.3v-4.63h2v4.63zM397 531.86v-1.32h2v1.32zM399 538.47v-2.64h2v2.64zM401 522.6v-1.98h2v1.98zM403 523.93v-0.66h2v0.66zM405 525.25v-1.98h2v1.98zM407 531.2v-6.61h2v6.61zM409 531.86v-4.63h2v4.63zM411 530.54v-1.32h2v1.32zM413 515.33v-5.29h2v5.29zM415 518.64v-1.32h2v1.32zM417 514.67v-1.98h2v1.98zM419 516.65v-5.29h2v5.29zM421 514.67v-3.97h2v3.97zM423 515.99v-5.95h2v5.95zM425 520.62v-3.97h2v3.97zM427 510.7v-4.63h2v4.63zM429 497.48v-7.27h2v7.27zM431 476.98v-5.95h3v5.95zM434 478.96v-4.63h2v4.63zM436 488.88v-11.9h2v11.9zM438 492.85v-8.6h2v8.6zM440 488.88v-10.58h2v10.58zM442 499.46v-1.98h2v1.98zM444 417.47v-6.61h2v6.61zM446 418.13v-10.58h2v10.58zM448 445.9v-12.56h2v12.56zM450 438.63v-16.53h2v16.53zM452 488.88v-9.92h2v9.92zM454 478.96v-7.93h2v7.93zM456 457.14v-12.56h2v12.56zM458 414.83v-23.8h2v23.8zM460 419.46v-27.77h2v27.77zM462 398.96v-15.21h2v15.21zM464 454.5v-10.58h2v10.58zM466 461.77v-14.55h2v14.55zM468 428.05v-16.53h2v16.53zM470 432.02v-19.17h2v19.17zM472 367.88v-27.77h2v27.77zM474 414.83v-18.51h3v18.51zM477 408.22v-22.48h2v22.48zM479 439.29v-21.16h2v21.16zM481 476.98v-5.29h2v5.29zM483 414.83v-17.85h2v17.85zM485 420.78v-13.22h2v13.22zM487 368.54v-33.72h2v33.72zM489 318.29v-18.51h2v18.51zM491 313v-33.06h2v33.06zM493 400.94v-26.45h2v26.45zM495 426.73v-16.53h2v16.53zM497 399.62v-21.16h2v21.16zM499 418.79v-15.21h2v15.21zM501 378.46v-23.14h2v23.14zM503 335.48v-37.03h2v37.03zM505 350.03v-37.69h2v37.69zM507 397.64v-33.06h2v33.06zM509 453.18v-23.14h2v23.14zM511 458.47v-19.84h2v19.84zM513 448.55v-25.13h2v25.13zM515 441.94v-8.6h2v8.6zM517 387.72v-42.32h3v42.32zM520 381.11v-24.46h2v24.46zM522 443.26v-29.75h2v29.75zM524 478.96v-15.21h2v15.21zM526 461.77v-15.87h2v15.87zM528 469.05v-21.16h2v21.16zM530 426.73v-35.04h2v35.04zM532 454.5v-20.5h2v20.5zM534 454.5v-15.87h2v15.87zM536 463.76v-18.51h2v18.51zM538 506.07v-6.61h2v6.61zM540 471.03v-18.51h2v18.51zM542 445.9v-18.51h2v18.51zM544 455.82v-28.43h2v28.43zM546 473.01v-24.46h2v24.46zM548 463.09v-27.11h2v27.11zM550 482.93v-12.56h2v12.56zM552 502.77v-8.6h2v8.6zM554 484.25v-21.82h2v21.82zM556 499.46v-15.87h2v15.87zM558 475.66v-23.8h2v23.8zM560 506.73v-19.84h2v19.84zM562 485.58v-23.14h3v23.14zM565 510.04v-12.56h2v12.56zM567 515.33v-3.31h2v3.31zM569 492.85v-18.51h2v18.51zM571 503.43v-18.51h2v18.51zM573 452.52v-38.35h2v38.35zM575 490.2v-19.17h2v19.17zM577 475v-19.17h2v19.17zM579 496.15v-10.58h2v10.58zM581 517.97v-5.95h2v5.95zM583 484.25v-18.51h2v18.51zM585 498.14v-13.22h2v13.22zM587 498.8v-16.53h2v16.53zM589 482.93v-29.09h2v29.09zM591 480.95v-27.11h2v27.11zM593 486.24v-14.55h2v14.55zM595 514.67v-11.9h2v11.9zM597 517.31v-11.24h2v11.24zM599 525.25v-6.61h2v6.61zM601 483.59v-19.84h2v19.84zM603 489.54v-18.51h2v18.51zM605 454.5v-25.79h3v25.79zM608 490.87v-12.56h2v12.56zM610 515.33v-5.95h2v5.95zM612 472.35v-9.26h2v9.26zM614 488.88v-24.46h2v24.46zM616 477.64v-31.74h2v31.74zM618 482.93v-13.22h2v13.22zM620 478.96v-17.85h2v17.85zM622 506.07v-13.22h2v13.22zM624 522.6v-5.95h2v5.95zM626 487.56v-20.5h2v20.5zM628 498.14v-16.53h2v16.53zM630 459.13v-21.16h2v21.16zM632 488.88v-21.16h2v21.16zM634 468.38v-25.79h2v25.79zM636 494.17v-7.27h2v7.27zM638 521.94v-9.26h2v9.26zM640 499.46v-19.17h2v19.17zM642 494.17v-20.5h2v20.5zM644 456.48v-27.11h2v27.11zM646 485.58v-19.84h2v19.84zM648 459.13v-19.84h3v19.84zM651 510.7v-11.24h2v11.24zM653 519.3v-4.63h2v4.63zM655 507.4v-11.9h2v11.9zM657 494.17v-16.53h2v16.53zM659 485.58v-16.53h2v16.53zM661 482.93v-16.53h2v16.53zM663 476.98v-19.17h2v19.17zM665 500.78v-16.53h2v16.53zM667 503.43v-11.9h2v11.9zM669 494.83v-17.19h2v17.19zM671 492.85v-19.17h2v19.17zM673 468.38v-28.43h2v28.43zM675 469.71v-21.82h2v21.82zM677 469.71v-21.82h2v21.82zM679 500.78v-10.58h2v10.58zM681 513.35v-8.6h2v8.6zM683 477.64v-23.14h2v23.14zM685 508.72v-18.51h2v18.51zM687 443.26v-19.84h2v19.84zM689 466.4v-29.75h2v29.75zM691 441.94v-21.16h2v21.16zM693 473.67v-16.53h3v16.53zM696 487.56v-17.19h2v17.19zM698 439.95v-33.72h2v33.72zM700 426.73v-19.84h2v19.84zM702 408.22v-48.93h2v48.93zM704 410.86v-40.33h2v40.33zM706 421.44v-42.32h2v42.32zM708 451.19v-32.4h2v32.4zM710 484.91v-17.19h2v17.19zM712 441.28v-35.7h2v35.7zM714 369.87v-54.22h2v54.22zM716 371.19v-55.54h2v55.54zM718 383.09v-57.52h2v57.52zM720 361.93v-57.52h2v57.52zM722 410.86v-31.08h2v31.08zM724 427.39v-21.16h2v21.16zM726 479.62v-22.48h2v22.48zM728 400.94v-34.38h2v34.38zM730 391.02v-47.61h2v47.61zM732 336.14v-48.27h2v48.27zM734 355.32v-50.91h2v50.91zM736 402.93v-38.35h3v38.35zM739 442.6v-28.43h2v28.43zM741 424.08v-42.32h2v42.32zM743 384.41v-57.52h2v57.52zM745 361.27v-49.59h2v49.59zM747 389.7v-41.66h2v41.66zM749 350.69v-62.15h2v62.15zM751 435.99v-36.37h2v36.37zM753 440.61v-26.45h2v26.45zM755 408.88v-31.08h2v31.08zM757 348.05v-52.23h2v52.23z" fill="#3CF05A"/>
<path d="M147 542.94v-0.66h2v0.66zM149 543.6v-0.66h2v0.66zM153 542.5v-0.7h2v0.7zM155 543.9v-0.7h2v0.7zM159 543.2v-0.7h2v0.7zM169 543.9v-0.7h3v0.7zM184 542.94v-0.66h2v0.66zM186 541.62v-1.32h2v1.32zM188 543.6v-1.32h2v1.32zM190 541.62v-1.32h2v1.32zM196 541.62v-1.32h2v1.32zM198 543.9v-1.05h2v1.05zM200 542.85v-1.05h2v1.05zM202 540.46v-0.66h2v0.66zM204 543.2v-0.7h2v0.7zM210 539.13v-2.64h2v2.64zM212 540.96v-1.32h2v1.32zM214 541.62v-1.32h3v1.32zM217 539.79v-1.32h2v1.32zM219 541.62v-1.98h2v1.98zM221 543.2v-0.7h2v0.7zM223 538.47v-1.98h2v1.98zM225 537.81v-1.98h2v1.98zM227 526.57v-3.97h2v3.97zM229 527.23v-6.61h2v6.61zM231 527.89v-3.97h2v3.97zM233 521.28v-5.95h2v5.95zM235 515.99v-9.92h2v9.92zM237 539.79v-1.32h2v1.32zM239 513.35v-9.26h2v9.26zM241 514.01v-2.64h2v2.64zM243 504.75v-7.27h2v7.27zM245 512.02v-11.9h2v11.9zM247 502.77v-15.87h2v15.87zM249 486.24v-17.85h2v17.85zM251 508.06v-9.26h2v9.26zM253 514.01v-14.55h2v14.55zM255 482.27v-15.87h2v15.87zM257 469.05v-19.17h3v19.17zM260 468.38v-23.14h2v23.14zM262 465.74v-21.82h2v21.82zM264 474.34v-20.5h2v20.5zM266 505.41v-15.21h2v15.21zM268 489.54v-20.5h2v20.5zM270 489.54v-11.24h2v11.24zM272 489.54v-20.5h2v20.5zM274 475.66v-27.11h2v27.11zM276 482.27v-25.79h2v25.79zM278 504.75v-17.19h2v17.19zM280 506.07v-9.26h2v9.26zM282 500.12v-15.21h2v15.21zM284 499.46v-5.29h2v5.29zM286 493.51v-9.26h2v9.26zM288 482.93v-16.53h2v16.53zM290 508.72v-14.55h2v14.55zM292 514.67v-8.6h2v8.6zM294 527.89v-3.31h2v3.31zM296 513.35v-17.85h2v17.85zM298 529.88v-3.97h2v3.97zM300 521.94v-4.63h3v4.63zM303 490.87v-15.21h2v15.21zM305 500.78v-11.9h2v11.9zM307 508.72v-3.31h2v3.31zM309 519.3v-8.6h2v8.6zM311 527.89v-3.97h2v3.97zM313 530.54v-1.98h2v1.98zM315 536.49v-2.64h2v2.64zM317 527.23v-2.64h2v2.64zM319 530.54v-3.31h2v3.31zM321 534.5v-1.98h2v1.98zM323 539.13v-0.66h2v0.66zM325 533.18v-0.66h2v0.66zM327 541.12v-1.32h2v1.32zM329 530.54v-2.64h2v2.64zM333 537.81v-0.66h2v0.66zM335 541.62v-0.66h2v0.66zM339 540.96v-0.66h2v0.66zM350 537.15v-0.66h2v0.66zM352 540.96v-1.32h2v1.32zM354 538.47v-0.66h2v0.66zM356 539.13v-1.32h2v1.32zM358 535.83v-1.32h2v1.32zM360 535.83v-2.64h2v2.64zM362 536.49v-0.66h2v0.66zM366 537.81v-1.98h2v1.98zM368 527.89v-1.32h2v1.32zM370 538.47v-1.32h2v1.32zM372 529.21v-0.66h2v0.66zM374 533.84v-0.66h2v0.66zM376 531.2v-1.98h2v1.98zM378 535.83v-0.66h2v0.66zM384 535.17v-0.66h2v0.66zM386 533.18v-1.98h2v1.98zM388 534.5v-2.64h3v2.64zM391 531.2v-1.32h2v1.32zM393 520.62v-2.64h2v2.64zM395 514.67v-0.66h2v0.66zM397 530.54v-1.32h2v1.32zM401 520.62v-0.66h2v0.66zM403 523.26v-0.66h2v0.66zM405 523.26v-1.98h2v1.98zM407 524.59v-1.98h2v1.98zM409 527.23v-1.98h2v1.98zM411 529.21v-3.97h2v3.97zM413 510.04v-1.32h2v1.32zM415 517.31v-0.66h2v0.66zM417 512.68v-1.32h2v1.32zM419 511.36v-1.98h2v1.98zM421 510.7v-4.63h2v4.63zM423 510.04v-1.98h2v1.98zM425 516.65v-2.64h2v2.64zM427 506.07v-1.98h2v1.98zM429 490.2v-11.24h2v11.24zM431 471.03v-4.63h3v4.63zM434 474.34v-9.26h2v9.26zM436 476.98v-3.97h2v3.97zM438 484.25v-3.97h2v3.97zM440 478.3v-1.98h2v1.98zM442 497.48v-1.32h2v1.32zM444 410.86v-5.95h2v5.95zM446 407.55v-11.9h2v11.9zM448 433.34v-8.6h2v8.6zM450 422.1v-3.31h2v3.31zM452 478.96v-5.29h2v5.29zM454 471.03v-7.27h2v7.27zM456 444.58v-3.31h2v3.31zM458 391.02v-16.53h2v16.53zM460 391.69v-14.55h2v14.55zM462 383.75v-14.55h2v14.55zM464 443.92v-10.58h2v10.58zM466 447.23v-7.93h2v7.93zM468 411.52v-11.9h2v11.9zM470 412.84v-7.93h2v7.93zM472 340.11v-19.84h2v19.84zM474 396.31v-9.26h3v9.26zM477 385.73v-11.9h2v11.9zM479 418.13v-15.87h2v15.87zM481 471.69v-6.61h2v6.61zM483 396.97v-11.24h2v11.24zM485 407.55v-13.89h2v13.89zM487 334.82v-9.92h2v9.92zM489 299.78v-32.4h2v32.4zM491 279.94v-24.46h2v24.46zM493 374.49v-7.93h2v7.93zM495 410.2v-15.21h2v15.21zM497 378.46v-16.53h2v16.53zM499 403.59v-13.22h2v13.22zM501 355.32v-25.13h2v25.13zM503 298.46v-28.43h2v28.43zM505 312.34v-29.75h2v29.75zM507 364.58v-14.55h2v14.55zM509 430.03v-5.95h2v5.95zM511 438.63v-5.29h2v5.29zM513 423.42v-8.6h2v8.6zM515 433.34v-12.56h2v12.56zM517 345.4v-31.74h3v31.74zM520 356.64v-25.79h2v25.79zM522 413.5v-16.53h2v16.53zM524 463.76v-11.9h2v11.9zM526 445.9v-17.85h2v17.85zM528 447.89v-16.53h2v16.53zM530 391.69v-29.75h2v29.75zM532 434v-25.79h2v25.79zM534 438.63v-26.45h2v26.45zM536 445.24v-19.17h2v19.17zM538 499.46v-7.93h2v7.93zM540 452.52v-12.56h2v12.56zM542 427.39v-17.85h2v17.85zM544 427.39v-19.84h2v19.84zM546 448.55v-24.46h2v24.46zM548 435.99v-23.8h2v23.8zM550 470.37v-9.26h2v9.26zM552 494.17v-3.31h2v3.31zM554 462.43v-11.24h2v11.24zM556 483.59v-7.93h2v7.93zM558 451.85v-11.24h2v11.24zM560 486.9v-14.55h2v14.55zM562 462.43v-13.89h3v13.89zM565 497.48v-13.89h2v13.89zM567 512.02v-5.29h2v5.29zM569 474.34v-15.21h2v15.21zM571 484.91v-11.24h2v11.24zM573 414.17v-23.8h2v23.8zM575 471.03v-20.5h2v20.5zM577 455.82v-25.79h2v25.79zM579 485.58v-13.89h2v13.89zM581 512.02v-7.93h2v7.93zM583 465.74v-23.14h2v23.14zM585 484.91v-17.19h2v17.19zM587 482.27v-21.82h2v21.82zM589 453.84v-23.8h2v23.8zM591 453.84v-23.8h2v23.8zM593 471.69v-13.22h2v13.22zM595 502.77v-10.58h2v10.58zM597 506.07v-7.27h2v7.27zM599 518.64v-7.27h2v7.27zM601 463.76v-17.85h2v17.85zM603 471.03v-16.53h2v16.53zM605 428.71v-17.19h3v17.19zM608 478.3v-9.26h2v9.26zM610 509.38v-5.95h2v5.95zM612 463.09v-24.46h2v24.46zM614 464.42v-21.16h2v21.16zM616 445.9v-19.17h2v19.17zM618 469.71v-28.43h2v28.43zM620 461.11v-17.85h2v17.85zM622 492.85v-11.24h2v11.24zM624 516.65v-5.95h2v5.95zM626 467.06v-7.93h2v7.93zM628 481.61v-11.24h2v11.24zM630 437.97v-26.45h2v26.45zM632 467.72v-21.82h2v21.82zM634 442.6v-24.46h2v24.46zM636 486.9v-14.55h2v14.55zM638 512.68v-7.27h2v7.27zM640 480.29v-17.19h2v17.19zM642 473.67v-17.85h2v17.85zM644 429.37v-27.77h2v27.77zM646 465.74v-20.5h2v20.5zM648 439.29v-19.17h3v19.17zM651 499.46v-10.58h2v10.58zM653 514.67v-13.22h2v13.22zM655 495.49v-12.56h2v12.56zM657 477.64v-15.87h2v15.87zM659 469.05v-17.85h2v17.85zM661 466.4v-19.17h2v19.17zM663 457.81v-20.5h2v20.5zM665 484.25v-5.95h2v5.95zM667 491.53v-5.95h2v5.95zM669 477.64v-13.22h2v13.22zM671 473.67v-18.51h2v18.51zM673 439.95v-11.9h2v11.9zM675 447.89v-12.56h2v12.56zM677 447.89v-17.19h2v17.19zM679 490.2v-7.27h2v7.27zM681 504.75v-8.6h2v8.6zM683 454.5v-17.19h2v17.19zM685 490.2v-7.93h2v7.93zM687 423.42v-27.11h2v27.11zM689 436.65v-23.14h2v23.14zM691 420.78v-27.77h2v27.77zM693 457.14v-18.51h3v18.51zM696 470.37v-15.87h2v15.87zM698 406.23v-27.11h2v27.11zM700 406.89v-33.72h2v33.72zM702 359.29v-32.4h2v32.4zM704 370.53v-35.04h2v35.04zM706 379.12v-30.42h2v30.42zM708 418.79v-9.92h2v9.92zM710 467.72v-13.89h2v13.89zM712 405.57v-28.43h2v28.43zM714 315.65v-46.28h2v46.28zM716 315.65v-56.2h2v56.2zM718 325.57v-49.59h2v49.59zM720 304.41v-40.99h2v40.99zM722 379.78v-33.06h2v33.06zM724 406.23v-29.09h2v29.09zM726 457.14v-17.19h2v17.19zM728 366.56v-31.08h2v31.08zM730 343.42v-54.22h2v54.22zM732 287.88v-52.9h2v52.9zM734 304.41v-51.57h2v51.57zM736 364.58v-36.37h3v36.37zM739 414.17v-35.7h2v35.7zM741 381.77v-26.45h2v26.45zM743 326.89v-44.3h2v44.3zM745 311.68v-44.96h2v44.96zM747 348.05v-39.67h2v39.67zM749 288.54v-55.54h2v55.54zM751 399.62v-31.74h2v31.74zM753 414.17v-35.7h2v35.7zM755 377.8v-23.8h2v23.8zM757 295.81v-46.95h2v46.95z" fill="#3DEBA8"/>
<path d="M147 542.28v-2.64h2v2.64zM149 542.94v-1.32h2v1.32zM155 543.2v-0.7h2v0.7zM165 543.2v-0.7h2v0.7zM169 543.2v-0.7h3v0.7zM178 542.85v-1.05h2v1.05zM184 542.28v-0.66h2v0.66zM186 540.29v-1.32h2v1.32zM188 542.28v-0.66h2v0.66zM194 543.2v-0.7h2v0.7zM196 540.29v-0.66h2v0.66zM202 539.79v-0.66h2v0.66zM204 542.5v-0.7h2v0.7zM210 536.49v-0.66h2v0.66zM212 539.63v-1.32h2v1.32zM214 540.29v-0.66h3v0.66zM217 538.47v-0.66h2v0.66zM223 536.49v-0.66h2v0.66zM225 535.83v-1.32h2v1.32zM227 522.6v-3.97h2v3.97zM229 520.62v-5.29h2v5.29zM231 523.93v-2.64h2v2.64zM233 515.33v-5.95h2v5.95zM235 506.07v-5.29h2v5.29zM237 538.47v-1.32h2v1.32zM239 504.09v-3.97h2v3.97zM241 511.36v-2.64h2v2.64zM243 497.48v-9.92h2v9.92zM245 500.12v-3.97h2v3.97zM247 486.9v-11.9h2v11.9zM249 468.38v-7.27h2v7.27zM251 498.8v-5.95h2v5.95zM253 499.46v-7.93h2v7.93zM255 466.4v-18.51h2v18.51zM257 449.87v-14.55h3v14.55zM260 445.24v-15.87h2v15.87zM262 443.92v-15.87h2v15.87zM264 453.84v-6.61h2v6.61zM266 490.2v-4.63h2v4.63zM268 469.05v-11.24h2v11.24zM270 478.3v-7.93h2v7.93zM272 469.05v-9.92h2v9.92zM274 448.55v-10.58h2v10.58zM276 456.48v-11.24h2v11.24zM278 487.56v-6.61h2v6.61zM280 496.82v-7.93h2v7.93zM282 484.91v-8.6h2v8.6zM284 494.17v-7.27h2v7.27zM286 484.25v-8.6h2v8.6zM288 466.4v-13.89h2v13.89zM290 494.17v-6.61h2v6.61zM292 506.07v-4.63h2v4.63zM294 524.59v-1.32h2v1.32zM296 495.49v-5.95h2v5.95zM298 525.91v-3.31h2v3.31zM300 517.31v-1.32h3v1.32zM303 475.66v-9.92h2v9.92zM305 488.88v-12.56h2v12.56zM307 505.41v-4.63h2v4.63zM309 510.7v-9.92h2v9.92zM311 523.93v-5.29h2v5.29zM313 528.55v-3.97h2v3.97zM315 533.84v-0.66h2v0.66zM317 524.59v-1.32h2v1.32zM319 527.23v-1.32h2v1.32zM321 532.52v-0.66h2v0.66zM323 538.47v-2.64h2v2.64zM325 532.52v-2.64h2v2.64zM329 527.89v-0.66h2v0.66zM331 540.96v-1.32h2v1.32zM333 537.15v-0.66h2v0.66zM337 540.46v-1.32h2v1.32zM341 541.62v-0.66h2v0.66zM350 536.49v-0.66h2v0.66zM354 537.81v-0.66h2v0.66zM358 534.5v-1.32h2v1.32zM360 533.18v-1.32h2v1.32zM364 541.62v-0.66h2v0.66zM366 535.83v-0.66h2v0.66zM368 526.57v-0.66h2v0.66zM370 537.15v-0.66h2v0.66zM372 528.55v-1.32h2v1.32zM374 533.18v-0.66h2v0.66zM376 529.21v-1.32h2v1.32zM384 534.5v-0.66h2v0.66zM386 531.2v-1.32h2v1.32zM388 531.86v-1.32h3v1.32zM393 517.97v-2.64h2v2.64zM395 514.01v-0.66h2v0.66zM397 529.21v-1.98h2v1.98zM399 535.83v-1.32h2v1.32zM401 519.96v-1.32h2v1.32zM403 522.6v-0.66h2v0.66zM405 521.28v-1.32h2v1.32zM407 522.6v-0.66h2v0.66zM411 525.25v-0.66h2v0.66zM413 508.72v-0.66h2v0.66zM415 516.65v-3.31h2v3.31zM417 511.36v-3.31h2v3.31zM419 509.38v-1.98h2v1.98zM421 506.07v-0.66h2v0.66zM423 508.06v-2.64h2v2.64zM425 514.01v-3.31h2v3.31zM427 504.09v-3.97h2v3.97zM429 478.96v-2.64h2v2.64zM431 466.4v-1.32h3v1.32zM434 465.08v-6.61h2v6.61zM436 473.01v-1.32h2v1.32zM438 480.29v-0.66h2v0.66zM440 476.32v-1.32h2v1.32zM442 496.15v-0.66h2v0.66zM444 404.91v-7.27h2v7.27zM446 395.65v-5.95h2v5.95zM448 424.75v-11.9h2v11.9zM450 418.79v-4.63h2v4.63zM452 473.67v-1.32h2v1.32zM454 463.76v-10.58h2v10.58zM456 441.28v-1.98h2v1.98zM458 374.49v-8.6h2v8.6zM460 377.14v-9.26h2v9.26zM462 369.2v-9.92h2v9.92zM464 433.34v-5.95h2v5.95zM466 439.29v-3.31h2v3.31zM468 399.62v-7.27h2v7.27zM470 404.91v-8.6h2v8.6zM472 320.28v-7.93h2v7.93zM474 387.06v-7.93h3v7.93zM477 373.83v-11.24h2v11.24zM479 402.26v-9.26h2v9.26zM481 465.08v-3.31h2v3.31zM483 385.73v-12.56h2v12.56zM485 393.67v-7.93h2v7.93zM487 324.9v-9.26h2v9.26zM489 267.38v-18.51h2v18.51zM491 255.48v-15.21h2v15.21zM493 366.56v-10.58h2v10.58zM495 394.99v-11.9h2v11.9zM497 361.93v-11.24h2v11.24zM499 390.36v-10.58h2v10.58zM501 330.19v-14.55h2v14.55zM503 270.02v-17.19h2v17.19zM505 282.59v-9.92h2v9.92zM507 350.03v-13.89h2v13.89zM509 424.08v-5.29h2v5.29zM511 433.34v-3.97h2v3.97zM513 414.83v-9.92h2v9.92zM515 420.78v-4.63h2v4.63zM517 313.66v-10.58h3v10.58zM520 330.85v-16.53h2v16.53zM522 396.97v-12.56h2v12.56zM524 451.85v-2.64h2v2.64zM526 428.05v-8.6h2v8.6zM528 431.36v-3.31h2v3.31zM530 361.93v-21.82h2v21.82zM532 408.22v-12.56h2v12.56zM534 412.18v-14.55h2v14.55zM536 426.07v-11.9h2v11.9zM538 491.53v-4.63h2v4.63zM540 439.95v-3.31h2v3.31zM542 409.54v-8.6h2v8.6zM544 407.55v-7.93h2v7.93zM546 424.08v-7.93h2v7.93zM548 412.18v-10.58h2v10.58zM550 461.11v-3.97h2v3.97zM552 490.87v-5.29h2v5.29zM554 451.19v-9.26h2v9.26zM556 475.66v-9.26h2v9.26zM558 440.61v-12.56h2v12.56zM560 472.35v-4.63h2v4.63zM562 448.55v-7.27h3v7.27zM565 483.59v-3.97h2v3.97zM567 506.73v-6.61h2v6.61zM569 459.13v-10.58h2v10.58zM571 473.67v-11.9h2v11.9zM573 390.36v-10.58h2v10.58zM575 450.53v-14.55h2v14.55zM577 430.03v-9.26h2v9.26zM579 471.69v-10.58h2v10.58zM581 504.09v-4.63h2v4.63zM583 442.6v-9.26h2v9.26zM585 467.72v-15.87h2v15.87zM587 460.45v-15.21h2v15.21zM589 430.03v-9.92h2v9.92zM591 430.03v-12.56h2v12.56zM593 458.47v-8.6h2v8.6zM595 492.19v-3.97h2v3.97zM597 498.8v-5.29h2v5.29zM599 511.36v-1.32h2v1.32zM601 445.9v-5.95h2v5.95zM603 454.5v-15.87h2v15.87zM605 411.52v-19.17h3v19.17zM608 469.05v-6.61h2v6.61zM610 503.43v-5.29h2v5.29zM612 438.63v-15.87h2v15.87zM614 443.26v-7.27h2v7.27zM616 426.73v-12.56h2v12.56zM618 441.28v-8.6h2v8.6zM620 443.26v-14.55h2v14.55zM622 481.61v-2.64h2v2.64zM624 510.7v-4.63h2v4.63zM626 459.13v-11.9h2v11.9zM628 470.37v-5.95h2v5.95zM630 411.52v-11.9h2v11.9zM632 445.9v-15.21h2v15.21zM634 418.13v-18.51h2v18.51zM636 472.35v-11.24h2v11.24zM638 505.41v-7.27h2v7.27zM640 463.09v-11.9h2v11.9zM642 455.82v-13.89h2v13.89zM644 401.6v-15.87h2v15.87zM646 445.24v-11.24h2v11.24zM648 420.12v-7.27h3v7.27zM651 488.88v-12.56h2v12.56zM653 501.44v-3.97h2v3.97zM655 482.93v-17.19h2v17.19zM657 461.77v-6.61h2v6.61zM659 451.19v-9.92h2v9.92zM661 447.23v-9.26h2v9.26zM663 437.31v-13.22h2v13.22zM665 478.3v-7.93h2v7.93zM667 485.58v-1.98h2v1.98zM669 464.42v-7.27h2v7.27zM671 455.16v-14.55h2v14.55zM673 428.05v-13.89h2v13.89zM675 435.32v-9.92h2v9.92zM677 430.7v-9.92h2v9.92zM679 482.93v-5.29h2v5.29zM681 496.15v-2.64h2v2.64zM683 437.31v-16.53h2v16.53zM685 482.27v-10.58h2v10.58zM687 396.31v-12.56h2v12.56zM689 413.5v-12.56h2v12.56zM691 393.01v-21.16h2v21.16zM693 438.63v-11.24h3v11.24zM696 454.5v-5.29h2v5.29zM698 379.12v-9.92h2v9.92zM700 373.17v-7.93h2v7.93zM702 326.89v-21.82h2v21.82zM704 335.48v-21.16h2v21.16zM706 348.71v-14.55h2v14.55zM708 408.88v-12.56h2v12.56zM710 453.84v-9.92h2v9.92zM712 377.14v-7.27h2v7.27zM714 269.36v-14.55h2v14.55zM716 259.45v-25.13h2v25.13zM718 275.98v-29.75h2v29.75zM720 263.41v-28.43h2v28.43zM722 346.72v-20.5h2v20.5zM724 377.14v-10.58h2v10.58zM726 439.95v-8.6h2v8.6zM728 335.48v-23.8h2v23.8zM730 289.2v-23.14h2v23.14zM732 234.98v-31.74h2v31.74zM734 252.83v-35.7h2v35.7zM736 328.21v-27.11h3v27.11zM739 378.46v-15.21h2v15.21zM741 355.32v-29.09h2v29.09zM743 282.59v-27.77h2v27.77zM745 266.72v-31.74h2v31.74zM747 308.37v-24.46h2v24.46zM749 233v-29.09h2v29.09zM751 367.88v-19.17h2v19.17zM753 378.46v-13.22h2v13.22zM755 354v-10.58h2v10.58zM757 248.87v-29.75h2v29.75z" fill="#3DCBDC"/>
<path d="M145 543.9v-1.05h2v1.05zM147 539.63v-0.66h2v0.66zM149 541.62v-0.66h2v0.66zM155 542.5v-0.7h2v0.7zM161 543.9v-2.1h2v2.1zM165 542.5v-0.7h2v0.7zM172 543.9v-2.1h2v2.1zM186 538.97v-0.66h2v0.66zM194 542.5v-0.7h2v0.7zM198 542.85v-1.05h2v1.05zM202 539.13v-1.98h2v1.98zM212 538.31v-0.66h2v0.66zM214 539.63v-0.66h3v0.66zM217 537.81v-0.66h2v0.66zM223 535.83v-1.98h2v1.98zM225 534.5v-1.98h2v1.98zM227 518.64v-1.32h2v1.32zM229 515.33v-0.66h2v0.66zM231 521.28v-1.32h2v1.32zM233 509.38v-4.63h2v4.63zM235 500.78v-2.64h2v2.64zM237 537.15v-1.32h2v1.32zM239 500.12v-5.29h2v5.29zM241 508.72v-3.31h2v3.31zM243 487.56v-2.64h2v2.64zM245 496.15v-7.93h2v7.93zM247 475v-5.29h2v5.29zM249 461.11v-5.95h2v5.95zM251 492.85v-1.98h2v1.98zM253 491.53v-3.97h2v3.97zM255 447.89v-2.64h2v2.64zM257 435.32v-5.95h3v5.95zM260 429.37v-7.93h2v7.93zM262 428.05v-6.61h2v6.61zM264 447.23v-7.93h2v7.93zM266 485.58v-2.64h2v2.64zM268 457.81v-8.6h2v8.6zM270 470.37v-6.61h2v6.61zM272 459.13v-5.95h2v5.95zM274 437.97v-17.85h2v17.85zM276 445.24v-9.26h2v9.26zM278 480.95v-4.63h2v4.63zM280 488.88v-5.29h2v5.29zM282 476.32v-6.61h2v6.61zM284 486.9v-9.26h2v9.26zM286 475.66v-6.61h2v6.61zM288 452.52v-5.29h2v5.29zM290 487.56v-7.27h2v7.27zM292 501.44v-2.64h2v2.64zM294 523.26v-2.64h2v2.64zM296 489.54v-7.93h2v7.93zM298 522.6v-3.31h2v3.31zM300 515.99v-1.98h3v1.98zM303 465.74v-9.26h2v9.26zM305 476.32v-14.55h2v14.55zM307 500.78v-7.27h2v7.27zM309 500.78v-7.27h2v7.27zM311 518.64v-5.29h2v5.29zM313 524.59v-1.32h2v1.32zM315 533.18v-1.32h2v1.32zM317 523.26v-1.32h2v1.32zM319 525.91v-2.64h2v2.64zM321 531.86v-1.32h2v1.32zM323 535.83v-0.66h2v0.66zM325 529.88v-1.98h2v1.98zM327 539.79v-0.66h2v0.66zM329 527.23v-0.66h2v0.66zM331 539.63v-0.66h2v0.66zM333 536.49v-0.66h2v0.66zM337 539.13v-1.32h2v1.32zM343 539.79v-1.32h3v1.32zM346 542.5v-0.7h2v0.7zM354 537.15v-0.66h2v0.66zM356 537.81v-1.32h2v1.32zM360 531.86v-0.66h2v0.66zM362 535.83v-1.32h2v1.32zM366 535.17v-0.66h2v0.66zM368 525.91v-2.64h2v2.64zM370 536.49v-1.32h2v1.32zM372 527.23v-1.32h2v1.32zM374 532.52v-1.32h2v1.32zM376 527.89v-0.66h2v0.66zM378 535.17v-1.32h2v1.32zM382 537.81v-1.32h2v1.32zM388 530.54v-1.98h3v1.98zM391 529.88v-1.32h2v1.32zM393 515.33v-1.98h2v1.98zM395 513.35v-1.32h2v1.32zM397 527.23v-0.66h2v0.66zM399 534.5v-0.66h2v0.66zM401 518.64v-0.66h2v0.66zM403 521.94v-0.66h2v0.66zM405 519.96v-1.98h2v1.98zM407 521.94v-1.32h2v1.32zM411 524.59v-1.32h2v1.32zM413 508.06v-1.32h2v1.32zM415 513.35v-1.32h2v1.32zM417 508.06v-0.66h2v0.66zM419 507.4v-1.32h2v1.32zM421 505.41v-1.98h2v1.98zM423 505.41v-0.66h2v0.66zM425 510.7v-0.66h2v0.66zM427 500.12v-1.32h2v1.32zM429 476.32v-1.32h2v1.32zM431 465.08v-2.64h3v2.64zM434 458.47v-0.66h2v0.66zM436 471.69v-0.66h2v0.66zM438 479.62v-1.98h2v1.98zM440 475v-0.66h2v0.66zM442 495.49v-0.66h2v0.66zM444 397.64v-0.66h2v0.66zM446 389.7v-2.64h2v2.64zM448 412.84v-3.31h2v3.31zM450 414.17v-3.31h2v3.31zM452 472.35v-0.66h2v0.66zM454 453.18v-0.66h2v0.66zM456 439.29v-1.32h2v1.32zM458 365.9v-5.95h2v5.95zM460 367.88v-9.26h2v9.26zM462 359.29v-1.98h2v1.98zM464 427.39v-3.97h2v3.97zM466 435.99v-1.32h2v1.32zM468 392.35v-2.64h2v2.64zM470 396.31v-5.95h2v5.95zM472 312.34v-3.31h2v3.31zM474 379.12v-3.31h3v3.31zM477 362.59v-7.93h2v7.93zM479 393.01v-1.32h2v1.32zM481 461.77v-1.98h2v1.98zM483 373.17v-3.97h2v3.97zM485 385.73v-4.63h2v4.63zM487 315.65v-6.61h2v6.61zM489 248.87v-2.64h2v2.64zM491 240.27v-5.29h2v5.29zM493 355.98v-3.31h2v3.31zM495 383.09v-3.31h2v3.31zM497 350.69v-5.29h2v5.29zM499 379.78v-7.27h2v7.27zM501 315.65v-5.29h2v5.29zM503 252.83v-4.63h2v4.63zM505 272.67v-9.92h2v9.92zM507 336.14v-5.29h2v5.29zM509 418.79v-2.64h2v2.64zM511 429.37v-3.97h2v3.97zM513 404.91v-3.97h2v3.97zM515 416.15v-4.63h2v4.63zM517 303.08v-11.9h3v11.9zM520 314.32v-11.9h2v11.9zM522 384.41v-8.6h2v8.6zM524 449.21v-6.61h2v6.61zM526 419.46v-10.58h2v10.58zM528 428.05v-5.29h2v5.29zM530 340.11v-14.55h2v14.55zM532 395.65v-9.92h2v9.92zM534 397.64v-13.89h2v13.89zM536 414.17v-6.61h2v6.61zM538 486.9v-3.97h2v3.97zM540 436.65v-7.93h2v7.93zM542 400.94v-7.93h2v7.93zM544 399.62v-9.26h2v9.26zM546 416.15v-11.24h2v11.24zM548 401.6v-11.24h2v11.24zM550 457.14v-7.93h2v7.93zM552 485.58v-3.97h2v3.97zM554 441.94v-5.29h2v5.29zM556 466.4v-5.95h2v5.95zM558 428.05v-11.9h2v11.9zM560 467.72v-7.93h2v7.93zM562 441.28v-7.27h3v7.27zM565 479.62v-5.29h2v5.29zM567 500.12v-6.61h2v6.61zM569 448.55v-11.24h2v11.24zM571 461.77v-7.93h2v7.93zM573 379.78v-7.27h2v7.27zM575 435.99v-3.31h2v3.31zM577 420.78v-16.53h2v16.53zM579 461.11v-9.26h2v9.26zM581 499.46v-3.97h2v3.97zM583 433.34v-4.63h2v4.63zM585 451.85v-5.95h2v5.95zM587 445.24v-7.93h2v7.93zM589 420.12v-14.55h2v14.55zM591 417.47v-11.24h2v11.24zM593 449.87v-8.6h2v8.6zM595 488.22v-4.63h2v4.63zM597 493.51v-5.29h2v5.29zM599 510.04v-4.63h2v4.63zM601 439.95v-8.6h2v8.6zM603 438.63v-11.9h2v11.9zM605 392.35v-13.89h3v13.89zM608 462.43v-7.27h2v7.27zM610 498.14v-4.63h2v4.63zM612 422.76v-11.24h2v11.24zM614 435.99v-8.6h2v8.6zM616 414.17v-17.85h2v17.85zM618 432.68v-9.26h2v9.26zM620 428.71v-11.9h2v11.9zM622 478.96v-1.98h2v1.98zM624 506.07v-3.97h2v3.97zM626 447.23v-9.92h2v9.92zM628 464.42v-11.24h2v11.24zM630 399.62v-9.92h2v9.92zM632 430.7v-12.56h2v12.56zM634 399.62v-11.24h2v11.24zM636 461.11v-9.26h2v9.26zM638 498.14v-4.63h2v4.63zM640 451.19v-6.61h2v6.61zM642 441.94v-9.26h2v9.26zM644 385.73v-17.19h2v17.19zM646 434v-5.95h2v5.95zM648 412.84v-7.93h3v7.93zM651 476.32v-9.92h2v9.92zM653 497.48v-1.32h2v1.32zM655 465.74v-7.27h2v7.27zM657 455.16v-5.95h2v5.95zM659 441.28v-9.26h2v9.26zM661 437.97v-4.63h2v4.63zM663 424.08v-9.92h2v9.92zM665 470.37v-5.29h2v5.29zM667 483.59v-1.98h2v1.98zM669 457.14v-5.29h2v5.29zM671 440.61v-6.61h2v6.61zM673 414.17v-9.92h2v9.92zM675 425.41v-9.26h2v9.26zM677 420.78v-9.92h2v9.92zM679 477.64v-6.61h2v6.61zM681 493.51v-4.63h2v4.63zM683 420.78v-7.93h2v7.93zM685 471.69v-5.95h2v5.95zM687 383.75v-6.61h2v6.61zM689 400.94v-9.92h2v9.92zM691 371.85v-11.24h2v11.24zM693 427.39v-3.97h3v3.97zM696 449.21v-5.95h2v5.95zM698 369.2v-10.58h2v10.58zM700 365.24v-15.87h2v15.87zM702 305.07v-11.24h2v11.24zM704 314.32v-5.95h2v5.95zM706 334.16v-15.21h2v15.21zM708 396.31v-11.24h2v11.24zM710 443.92v-5.95h2v5.95zM712 369.87v-13.89h2v13.89zM714 254.82v-13.89h2v13.89zM716 234.32v-23.14h2v23.14zM718 246.22v-25.13h2v25.13zM720 234.98v-23.14h2v23.14zM722 326.23v-19.17h2v19.17zM724 366.56v-10.58h2v10.58zM726 431.36v-7.27h2v7.27zM728 311.68v-13.89h2v13.89zM730 266.06v-17.19h2v17.19zM732 203.24v-12.56h2v12.56zM734 217.13v-20.5h2v20.5zM736 301.1v-11.24h3v11.24zM739 363.25v-14.55h2v14.55zM741 326.23v-13.22h2v13.22zM743 254.82v-21.16h2v21.16zM745 234.98v-25.13h2v25.13zM747 283.91v-15.21h2v15.21zM749 203.9v-23.14h2v23.14zM751 348.71v-9.26h2v9.26zM753 365.24v-10.58h2v10.58zM755 343.42v-16.53h2v16.53zM757 219.11v-25.13h2v25.13z" fill="#3B78D2"/>
<path d="M145 542.85v-1.05h2v1.05zM149 540.96v-0.66h2v0.66zM159 542.5v-0.7h2v0.7zM169 542.5v-0.7h3v0.7zM182 543.9v-2.1h2v2.1zM188 541.62v-0.66h2v0.66zM210 535.83v-0.66h2v0.66zM217 537.15v-0.66h2v0.66zM221 542.5v-0.7h2v0.7zM223 533.84v-0.66h2v0.66zM225 532.52v-1.32h2v1.32zM227 517.31v-0.66h2v0.66zM229 514.67v-1.32h2v1.32zM231 519.96v-1.98h2v1.98zM233 504.75v-3.31h2v3.31zM235 498.14v-1.98h2v1.98zM237 535.83v-0.66h2v0.66zM239 494.83v-1.98h2v1.98zM241 505.41v-2.64h2v2.64zM243 484.91v-3.31h2v3.31zM245 488.22v-5.29h2v5.29zM247 469.71v-1.98h2v1.98zM249 455.16v-1.32h2v1.32zM251 490.87v-2.64h2v2.64zM253 487.56v-1.98h2v1.98zM255 445.24v-3.31h2v3.31zM257 429.37v-3.31h3v3.31zM260 421.44v-5.95h2v5.95zM262 421.44v-5.95h2v5.95zM264 439.29v-9.92h2v9.92zM266 482.93v-3.97h2v3.97zM268 449.21v-5.29h2v5.29zM270 463.76v-1.98h2v1.98zM272 453.18v-7.93h2v7.93zM274 420.12v-6.61h2v6.61zM276 435.99v-9.92h2v9.92zM278 476.32v-3.97h2v3.97zM280 483.59v-1.98h2v1.98zM282 469.71v-2.64h2v2.64zM284 477.64v-11.24h2v11.24zM286 469.05v-7.27h2v7.27zM288 447.23v-13.89h2v13.89zM290 480.29v-9.26h2v9.26zM292 498.8v-5.29h2v5.29zM294 520.62v-3.31h2v3.31zM296 481.61v-9.92h2v9.92zM298 519.3v-5.29h2v5.29zM300 514.01v-4.63h3v4.63zM303 456.48v-11.9h2v11.9zM305 461.77v-9.26h2v9.26zM307 493.51v-7.27h2v7.27zM309 493.51v-3.31h2v3.31zM311 513.35v-5.95h2v5.95zM313 523.26v-3.31h2v3.31zM315 531.86v-2.64h2v2.64zM317 521.94v-2.64h2v2.64zM319 523.26v-3.31h2v3.31zM321 530.54v-1.32h2v1.32zM323 535.17v-0.66h2v0.66zM325 527.89v-1.98h2v1.98zM327 539.13v-1.32h2v1.32zM329 526.57v-2.64h2v2.64zM333 535.83v-1.32h2v1.32zM335 540.96v-0.66h2v0.66zM337 537.81v-0.66h2v0.66zM341 540.96v-0.66h2v0.66zM343 538.47v-1.98h3v1.98zM350 535.83v-1.32h2v1.32zM356 536.49v-0.66h2v0.66zM360 531.2v-0.66h2v0.66zM364 540.96v-0.66h2v0.66zM368 523.26v-1.98h2v1.98zM372 525.91v-0.66h2v0.66zM374 531.2v-0.66h2v0.66zM376 527.23v-1.32h2v1.32zM382 536.49v-0.66h2v0.66zM384 533.84v-1.32h2v1.32zM386 529.88v-0.66h2v0.66zM393 513.35v-1.32h2v1.32zM399 533.84v-0.66h2v0.66zM401 517.97v-0.66h2v0.66zM403 521.28v-0.66h2v0.66zM415 512.02v-0.66h2v0.66zM419 506.07v-0.66h2v0.66zM425 510.04v-1.32h2v1.32zM429 475v-1.98h2v1.98zM434 457.81v-0.66h2v0.66zM438 477.64v-1.32h2v1.32zM440 474.34v-0.66h2v0.66zM442 494.83v-0.66h2v0.66zM444 396.97v-0.66h2v0.66zM446 387.06v-2.64h2v2.64zM448 409.54v-2.64h2v2.64zM450 410.86v-1.98h2v1.98zM452 471.69v-3.97h2v3.97zM454 452.52v-1.32h2v1.32zM456 437.97v-2.64h2v2.64zM458 359.95v-1.98h2v1.98zM460 358.63v-6.61h2v6.61zM462 357.3v-2.64h2v2.64zM464 423.42v-2.64h2v2.64zM466 434.66v-0.66h2v0.66zM468 389.7v-1.98h2v1.98zM470 390.36v-3.31h2v3.31zM472 309.04v-3.97h2v3.97zM474 375.82v-3.31h3v3.31zM477 354.66v-1.98h2v1.98zM479 391.69v-1.32h2v1.32zM481 459.79v-1.98h2v1.98zM483 369.2v-0.66h2v0.66zM485 381.11v-1.32h2v1.32zM487 309.04v-3.97h2v3.97zM489 246.22v-5.29h2v5.29zM491 234.98v-1.98h2v1.98zM493 352.67v-1.32h2v1.32zM495 379.78v-1.32h2v1.32zM497 345.4v-1.98h2v1.98zM499 372.51v-0.66h2v0.66zM501 310.36v-3.97h2v3.97zM503 248.2v-5.95h2v5.95zM505 262.75v-1.98h2v1.98zM507 330.85v-3.97h2v3.97zM509 416.15v-1.32h2v1.32zM511 425.41v-3.31h2v3.31zM513 400.94v-1.32h2v1.32zM515 411.52v-2.64h2v2.64zM517 291.18v-2.64h3v2.64zM520 302.42v-11.24h2v11.24zM522 375.82v-1.98h2v1.98zM524 442.6v-1.98h2v1.98zM526 408.88v-1.98h2v1.98zM528 422.76v-1.32h2v1.32zM530 325.57v-3.97h2v3.97zM532 385.73v-10.58h2v10.58zM534 383.75v-6.61h2v6.61zM536 407.55v-3.31h2v3.31zM538 482.93v-1.98h2v1.98zM540 428.71v-4.63h2v4.63zM542 393.01v-4.63h2v4.63zM544 390.36v-5.95h2v5.95zM546 404.91v-7.27h2v7.27zM548 390.36v-9.26h2v9.26zM550 449.21v-3.31h2v3.31zM552 481.61v-2.64h2v2.64zM554 436.65v-1.98h2v1.98zM556 460.45v-6.61h2v6.61zM558 416.15v-9.92h2v9.92zM560 459.79v-5.29h2v5.29zM562 434v-7.27h3v7.27zM565 474.34v-5.95h2v5.95zM567 493.51v-0.66h2v0.66zM569 437.31v-3.97h2v3.97zM571 453.84v-6.61h2v6.61zM573 372.51v-8.6h2v8.6zM575 432.68v-7.93h2v7.93zM577 404.25v-7.27h2v7.27zM579 451.85v-3.97h2v3.97zM581 495.49v-4.63h2v4.63zM583 428.71v-8.6h2v8.6zM585 445.9v-9.26h2v9.26zM587 437.31v-4.63h2v4.63zM589 405.57v-3.97h2v3.97zM591 406.23v-4.63h2v4.63zM593 441.28v-1.98h2v1.98zM595 483.59v-4.63h2v4.63zM597 488.22v-1.98h2v1.98zM599 505.41v-0.66h2v0.66zM601 431.36v-11.9h2v11.9zM603 426.73v-7.27h2v7.27zM605 378.46v-8.6h3v8.6zM608 455.16v-5.95h2v5.95zM610 493.51v-0.66h2v0.66zM612 411.52v-5.95h2v5.95zM614 427.39v-11.24h2v11.24zM616 396.31v-7.27h2v7.27zM618 423.42v-5.95h2v5.95zM620 416.81v-6.61h2v6.61zM622 476.98v-1.32h2v1.32zM624 502.11v-1.98h2v1.98zM626 437.31v-9.26h2v9.26zM628 453.18v-3.31h2v3.31zM630 389.7v-7.27h2v7.27zM632 418.13v-7.27h2v7.27zM634 388.38v-8.6h2v8.6zM636 451.85v-2.64h2v2.64zM638 493.51v-1.32h2v1.32zM640 444.58v-9.26h2v9.26zM642 432.68v-1.98h2v1.98zM644 368.54v-8.6h2v8.6zM646 428.05v-5.29h2v5.29zM648 404.91v-9.26h3v9.26zM651 466.4v-7.93h2v7.93zM653 496.15v-3.31h2v3.31zM655 458.47v-2.64h2v2.64zM657 449.21v-2.64h2v2.64zM659 432.02v-7.93h2v7.93zM661 433.34v-11.24h2v11.24zM663 414.17v-2.64h2v2.64zM665 465.08v-3.31h2v3.31zM667 481.61v-3.31h2v3.31zM669 451.85v-6.61h2v6.61zM671 434v-1.98h2v1.98zM673 404.25v-2.64h2v2.64zM675 416.15v-2.64h2v2.64zM677 410.86v-5.29h2v5.29zM679 471.03v-3.97h2v3.97zM681 488.88v-1.98h2v1.98zM683 412.84v-3.31h2v3.31zM685 465.74v-1.32h2v1.32zM687 377.14v-7.93h2v7.93zM689 391.02v-5.95h2v5.95zM691 360.61v-8.6h2v8.6zM693 423.42v-1.98h3v1.98zM696 443.26v-1.98h2v1.98zM698 358.63v-5.29h2v5.29zM700 349.37v-11.9h2v11.9zM702 293.83v-7.93h2v7.93zM704 308.37v-5.29h2v5.29zM706 318.95v-5.95h2v5.95zM708 385.07v-3.97h2v3.97zM710 437.97v-12.56h2v12.56zM712 355.98v-5.95h2v5.95zM714 240.93v-9.92h2v9.92zM716 211.18v-14.55h2v14.55zM718 221.1v-13.22h2v13.22zM720 211.84v-17.85h2v17.85zM722 307.05v-12.56h2v12.56zM724 355.98v-10.58h2v10.58zM726 424.08v-2.64h2v2.64zM728 297.79v-15.21h2v15.21zM730 248.87v-13.89h2v13.89zM732 190.68v-17.85h2v17.85zM734 196.63v-16.53h2v16.53zM736 289.86v-16.53h3v16.53zM739 348.71v-6.61h2v6.61zM741 313v-10.58h2v10.58zM743 233.66v-17.19h2v17.19zM745 209.86v-15.21h2v15.21zM747 268.7v-13.22h2v13.22zM749 180.76v-16.53h2v16.53zM751 339.45v-3.97h2v3.97zM753 354.66v-4.63h2v4.63zM755 326.89v-14.55h2v14.55zM757 193.99v-19.17h2v19.17z" fill="#3930BE"/>
<path d="M147 538.97v-0.66h2v0.66zM184 541.62v-0.66h2v0.66zM188 540.96v-0.66h2v0.66zM190 540.29v-0.66h2v0.66zM202 537.15v-0.66h2v0.66zM217 536.49v-0.66h2v0.66zM219 539.63v-0.66h2v0.66zM231 517.97v-0.66h2v0.66zM239 492.85v-1.32h2v1.32zM241 502.77v-2.64h2v2.64zM243 481.61v-2.64h2v2.64zM245 482.93v-0.66h2v0.66zM247 467.72v-1.98h2v1.98zM249 453.84v-3.31h2v3.31zM251 488.22v-0.66h2v0.66zM255 441.94v-1.32h2v1.32zM257 426.07v-2.64h3v2.64zM260 415.49v-2.64h2v2.64zM262 415.49v-1.32h2v1.32zM264 429.37v-1.32h2v1.32zM266 478.96v-1.98h2v1.98zM268 443.92v-4.63h2v4.63zM270 461.77v-1.98h2v1.98zM272 445.24v-1.32h2v1.32zM274 413.5v-3.97h2v3.97zM276 426.07v-3.97h2v3.97zM278 472.35v-0.66h2v0.66zM280 481.61v-4.63h2v4.63zM282 467.06v-5.29h2v5.29zM284 466.4v-2.64h2v2.64zM286 461.77v-5.95h2v5.95zM288 433.34v-2.64h2v2.64zM290 471.03v-3.97h2v3.97zM292 493.51v-4.63h2v4.63zM294 517.31v-0.66h2v0.66zM296 471.69v-1.98h2v1.98zM298 514.01v-1.32h2v1.32zM300 509.38v-3.97h3v3.97zM303 444.58v-9.26h2v9.26zM305 452.52v-7.93h2v7.93zM307 486.24v-2.64h2v2.64zM309 490.2v-1.98h2v1.98zM311 507.4v-1.32h2v1.32zM313 519.96v-1.32h2v1.32zM315 529.21v-1.32h2v1.32zM317 519.3v-1.32h2v1.32zM319 519.96v-0.66h2v0.66zM321 529.21v-0.66h2v0.66zM325 525.91v-0.66h2v0.66zM327 537.81v-0.66h2v0.66zM329 523.93v-0.66h2v0.66zM331 538.97v-1.32h2v1.32zM333 534.5v-0.66h2v0.66zM337 537.15v-0.66h2v0.66zM343 536.49v-0.66h3v0.66zM348 542.85v-1.05h2v1.05zM352 539.63v-1.32h2v1.32zM360 530.54v-1.32h2v1.32zM362 534.5v-0.66h2v0.66zM368 521.28v-0.66h2v0.66zM374 530.54v-0.66h2v0.66zM380 535.17v-0.66h2v0.66zM382 535.83v-0.66h2v0.66zM384 532.52v-1.32h2v1.32zM386 529.21v-0.66h2v0.66zM388 528.55v-0.66h3v0.66zM391 528.55v-0.66h2v0.66zM395 512.02v-0.66h2v0.66zM397 526.57v-0.66h2v0.66zM401 517.31v-1.32h2v1.32zM405 517.97v-0.66h2v0.66zM409 525.25v-1.32h2v1.32zM425 508.72v-0.66h2v0.66zM429 473.01v-0.66h2v0.66zM431 462.43v-0.66h3v0.66zM436 471.03v-0.66h2v0.66zM440 473.67v-0.66h2v0.66zM442 494.17v-0.66h2v0.66zM444 396.31v-0.66h2v0.66zM446 384.41v-0.66h2v0.66zM450 408.88v-1.32h2v1.32zM452 467.72v-1.98h2v1.98zM454 451.19v-1.32h2v1.32zM456 435.32v-1.32h2v1.32zM458 357.96v-1.98h2v1.98zM460 352.01v-0.66h2v0.66zM462 354.66v-1.32h2v1.32zM464 420.78v-0.66h2v0.66zM466 434v-0.66h2v0.66zM468 387.72v-0.66h2v0.66zM470 387.06v-0.66h2v0.66zM472 305.07v-3.31h2v3.31zM474 372.51v-0.66h3v0.66zM477 352.67v-1.98h2v1.98zM479 390.36v-3.31h2v3.31zM481 457.81v-0.66h2v0.66zM483 368.54v-0.66h2v0.66zM485 379.78v-1.98h2v1.98zM487 305.07v-0.66h2v0.66zM489 240.93v-1.32h2v1.32zM491 233v-1.98h2v1.98zM493 351.35v-0.66h2v0.66zM495 378.46v-3.31h2v3.31zM497 343.42v-2.64h2v2.64zM499 371.85v-1.98h2v1.98zM501 306.39v-0.66h2v0.66zM503 242.25v-2.64h2v2.64zM505 260.77v-0.66h2v0.66zM507 326.89v-1.98h2v1.98zM509 414.83v-1.98h2v1.98zM511 422.1v-1.98h2v1.98zM513 399.62v-2.64h2v2.64zM515 408.88v-0.66h2v0.66zM517 288.54v-1.32h3v1.32zM520 291.18v-1.98h2v1.98zM522 373.83v-1.98h2v1.98zM524 440.61v-3.31h2v3.31zM526 406.89v-0.66h2v0.66zM528 421.44v-0.66h2v0.66zM530 321.6v-1.98h2v1.98zM532 375.16v-0.66h2v0.66zM534 377.14v-1.32h2v1.32zM536 404.25v-1.32h2v1.32zM538 480.95v-0.66h2v0.66zM540 424.08v-0.66h2v0.66zM542 388.38v-0.66h2v0.66zM544 384.41v-5.29h2v5.29zM546 397.64v-3.31h2v3.31zM548 381.11v-0.66h2v0.66zM550 445.9v-0.66h2v0.66zM552 478.96v-1.32h2v1.32zM554 434.66v-3.31h2v3.31zM556 453.84v-2.64h2v2.64zM558 406.23v-1.98h2v1.98zM560 454.5v-1.32h2v1.32zM562 426.73v-2.64h3v2.64zM565 468.38v-0.66h2v0.66zM567 492.85v-0.66h2v0.66zM569 433.34v-1.98h2v1.98zM571 447.23v-1.32h2v1.32zM573 363.91v-1.98h2v1.98zM575 424.75v-4.63h2v4.63zM577 396.97v-3.31h2v3.31zM579 447.89v-1.32h2v1.32zM581 490.87v-0.66h2v0.66zM583 420.12v-1.98h2v1.98zM585 436.65v-0.66h2v0.66zM587 432.68v-1.32h2v1.32zM589 401.6v-3.97h2v3.97zM591 401.6v-1.98h2v1.98zM593 439.29v-3.31h2v3.31zM595 478.96v-0.66h2v0.66zM597 486.24v-0.66h2v0.66zM601 419.46v-5.29h2v5.29zM603 419.46v-3.97h2v3.97zM605 369.87v-4.63h3v4.63zM608 449.21v-0.66h2v0.66zM610 492.85v-0.66h2v0.66zM612 405.57v-1.32h2v1.32zM614 416.15v-1.32h2v1.32zM616 389.04v-1.32h2v1.32zM618 417.47v-3.31h2v3.31zM620 410.2v-3.97h2v3.97zM622 475.66v-3.31h2v3.31zM624 500.12v-0.66h2v0.66zM626 428.05v-1.32h2v1.32zM628 449.87v-0.66h2v0.66zM630 382.43v-2.64h2v2.64zM632 410.86v-1.98h2v1.98zM634 379.78v-1.32h2v1.32zM636 449.21v-2.64h2v2.64zM638 492.19v-0.66h2v0.66zM640 435.32v-1.98h2v1.98zM642 430.7v-3.31h2v3.31zM644 359.95v-4.63h2v4.63zM646 422.76v-0.66h2v0.66zM648 395.65v-6.61h3v6.61zM651 458.47v-1.32h2v1.32zM653 492.85v-0.66h2v0.66zM655 455.82v-3.97h2v3.97zM657 446.56v-2.64h2v2.64zM659 424.08v-2.64h2v2.64zM661 422.1v-1.32h2v1.32zM663 411.52v-1.32h2v1.32zM665 461.77v-0.66h2v0.66zM667 478.3v-2.64h2v2.64zM669 445.24v-4.63h2v4.63zM671 432.02v-1.98h2v1.98zM673 401.6v-4.63h2v4.63zM675 413.5v-5.29h2v5.29zM677 405.57v-3.97h2v3.97zM679 467.06v-0.66h2v0.66zM681 486.9v-0.66h2v0.66zM683 409.54v-3.97h2v3.97zM685 464.42v-1.98h2v1.98zM687 369.2v-3.97h2v3.97zM689 385.07v-0.66h2v0.66zM691 352.01v-1.98h2v1.98zM693 421.44v-1.98h3v1.98zM696 441.28v-1.98h2v1.98zM698 353.34v-1.98h2v1.98zM700 337.47v-3.97h2v3.97zM702 285.89v-1.32h2v1.32zM704 303.08v-5.29h2v5.29zM706 313v-2.64h2v2.64zM708 381.11v-4.63h2v4.63zM710 425.41v-0.66h2v0.66zM712 350.03v-1.98h2v1.98zM714 231.01v-11.9h2v11.9zM716 196.63v-5.95h2v5.95zM718 207.87v-8.6h2v8.6zM720 193.99v-5.95h2v5.95zM722 294.49v-5.95h2v5.95zM724 345.4v-7.93h2v7.93zM726 421.44v-1.32h2v1.32zM728 282.59v-2.64h2v2.64zM730 234.98v-7.27h2v7.27zM732 172.83v-2.64h2v2.64zM734 180.1v-5.29h2v5.29zM736 273.33v-3.97h3v3.97zM739 342.1v-3.97h2v3.97zM741 302.42v-5.29h2v5.29zM743 216.47v-3.31h2v3.31zM745 194.65v-3.31h2v3.31zM747 255.48v-9.26h2v9.26zM749 164.23v-6.61h2v6.61zM751 335.48v-7.27h2v7.27zM753 350.03v-3.31h2v3.31zM755 312.34v-1.32h2v1.32zM757 174.81v-6.61h2v6.61z" fill="#6B2DA8"/>
<path d="M249 450.53v-0.66h2v0.66zM268 439.29v-0.66h2v0.66zM274 409.54v-0.66h2v0.66zM276 422.1v-1.32h2v1.32zM280 476.98v-0.66h2v0.66zM286 455.82v-1.32h2v1.32zM296 469.71v-0.66h2v0.66zM298 512.68v-0.66h2v0.66zM300 505.41v-0.66h3v0.66zM303 435.32v-0.66h2v0.66zM307 483.59v-1.32h2v1.32zM309 488.22v-1.32h2v1.32zM388 527.89v-0.66h3v0.66zM517 287.22v-0.66h3v0.66zM524 437.31v-0.66h2v0.66zM542 387.72v-0.66h2v0.66zM548 380.44v-0.66h2v0.66zM558 404.25v-0.66h2v0.66zM571 445.9v-0.66h2v0.66zM575 420.12v-0.66h2v0.66zM585 435.99v-0.66h2v0.66zM597 485.58v-0.66h2v0.66zM608 448.55v-0.66h2v0.66zM630 379.78v-0.66h2v0.66zM642 427.39v-0.66h2v0.66zM651 457.14v-0.66h2v0.66zM689 384.41v-0.66h2v0.66zM693 419.46v-0.66h3v0.66zM708 376.48v-0.66h2v0.66zM710 424.75v-0.66h2v0.66zM712 348.05v-0.66h2v0.66zM714 219.11v-0.66h2v0.66zM718 199.28v-0.66h2v0.66zM722 288.54v-0.66h2v0.66zM724 337.47v-0.66h2v0.66zM728 279.94v-0.66h2v0.66zM730 227.71v-0.66h2v0.66zM732 170.18v-1.32h2v1.32zM734 174.81v-1.98h2v1.98zM736 269.36v-1.98h3v1.98zM751 328.21v-1.32h2v1.32zM753 346.72v-1.32h2v1.32zM755 311.02v-0.66h2v0.66zM757 168.2v-1.32h2v1.32z" fill="#8E2A8E"/>
<path d="M188 540.29v-0.66h2v0.66zM223 533.18v-0.66h2v0.66zM227 516.65v-0.66h2v0.66zM229 513.35v-0.66h2v0.66zM231 517.31v-0.66h2v0.66zM233 501.44v-0.66h2v0.66zM235 496.15v-0.66h2v0.66zM241 500.12v-1.32h2v1.32zM243 478.96v-0.66h2v0.66zM247 465.74v-0.66h2v0.66zM251 487.56v-0.66h2v0.66zM255 440.61v-0.66h2v0.66zM257 423.42v-1.32h3v1.32zM260 412.84v-1.32h2v1.32zM262 414.17v-1.98h2v1.98zM268 438.63v-0.66h2v0.66zM270 459.79v-0.66h2v0.66zM272 443.92v-0.66h2v0.66zM274 408.88v-1.98h2v1.98zM278 471.69v-0.66h2v0.66zM284 463.76v-1.98h2v1.98zM290 467.06v-2.64h2v2.64zM294 516.65v-0.66h2v0.66zM296 469.05v-0.66h2v0.66zM300 504.75v-0.66h3v0.66zM303 434.66v-0.66h2v0.66zM305 444.58v-3.31h2v3.31zM307 482.27v-0.66h2v0.66zM309 486.9v-1.32h2v1.32zM311 506.07v-0.66h2v0.66zM317 517.97v-0.66h2v0.66zM323 534.5v-1.32h2v1.32zM327 537.15v-0.66h2v0.66zM350 534.5v-0.66h2v0.66zM360 529.21v-0.66h2v0.66zM372 525.25v-0.66h2v0.66zM388 527.23v-0.66h3v0.66zM391 527.89v-0.66h2v0.66zM397 525.91v-0.66h2v0.66zM399 533.18v-0.66h2v0.66zM403 520.62v-0.66h2v0.66zM407 520.62v-0.66h2v0.66zM411 523.26v-0.66h2v0.66zM425 508.06v-0.66h2v0.66zM431 461.77v-0.66h3v0.66zM434 457.14v-0.66h2v0.66zM436 470.37v-0.66h2v0.66zM438 476.32v-0.66h2v0.66zM444 395.65v-0.66h2v0.66zM446 383.75v-1.32h2v1.32zM450 407.55v-0.66h2v0.66zM452 465.74v-1.32h2v1.32zM454 449.87v-1.32h2v1.32zM458 355.98v-1.98h2v1.98zM460 351.35v-1.98h2v1.98zM462 353.34v-1.98h2v1.98zM464 420.12v-1.32h2v1.32zM466 433.34v-1.32h2v1.32zM468 387.06v-0.66h2v0.66zM470 386.4v-0.66h2v0.66zM472 301.76v-0.66h2v0.66zM474 371.85v-0.66h3v0.66zM477 350.69v-2.64h2v2.64zM479 387.06v-1.98h2v1.98zM481 457.14v-0.66h2v0.66zM483 367.88v-0.66h2v0.66zM487 304.41v-3.97h2v3.97zM489 239.61v-2.64h2v2.64zM493 350.69v-0.66h2v0.66zM495 375.16v-2.64h2v2.64zM497 340.77v-1.98h2v1.98zM499 369.87v-0.66h2v0.66zM501 305.73v-0.66h2v0.66zM503 239.61v-1.98h2v1.98zM505 260.11v-0.66h2v0.66zM507 324.9v-0.66h2v0.66zM511 420.12v-1.32h2v1.32zM513 396.97v-0.66h2v0.66zM515 408.22v-1.32h2v1.32zM517 286.55v-0.66h3v0.66zM520 289.2v-0.66h2v0.66zM522 371.85v-0.66h2v0.66zM528 420.78v-0.66h2v0.66zM530 319.61v-0.66h2v0.66zM532 374.49v-1.98h2v1.98zM534 375.82v-1.98h2v1.98zM540 423.42v-0.66h2v0.66zM544 379.12v-1.32h2v1.32zM546 394.33v-0.66h2v0.66zM552 477.64v-0.66h2v0.66zM554 431.36v-0.66h2v0.66zM556 451.19v-1.32h2v1.32zM562 424.08v-0.66h3v0.66zM565 467.72v-1.32h2v1.32zM569 431.36v-0.66h2v0.66zM571 445.24v-0.66h2v0.66zM573 361.93v-1.32h2v1.32zM583 418.13v-1.32h2v1.32zM587 431.36v-1.32h2v1.32zM591 399.62v-0.66h2v0.66zM599 504.75v-0.66h2v0.66zM603 415.49v-1.32h2v1.32zM605 365.24v-0.66h3v0.66zM610 492.19v-0.66h2v0.66zM612 404.25v-1.32h2v1.32zM618 414.17v-0.66h2v0.66zM622 472.35v-0.66h2v0.66zM626 426.73v-0.66h2v0.66zM642 426.73v-0.66h2v0.66zM646 422.1v-0.66h2v0.66zM648 389.04v-1.32h3v1.32zM651 456.48v-0.66h2v0.66zM653 492.19v-0.66h2v0.66zM655 451.85v-0.66h2v0.66zM659 421.44v-0.66h2v0.66zM661 420.78v-0.66h2v0.66zM663 410.2v-1.32h2v1.32zM669 440.61v-1.98h2v1.98zM677 401.6v-0.66h2v0.66zM681 486.24v-0.66h2v0.66zM683 405.57v-0.66h2v0.66zM689 383.75v-0.66h2v0.66zM691 350.03v-1.32h2v1.32zM693 418.79v-0.66h3v0.66zM698 351.35v-1.98h2v1.98zM702 284.57v-1.32h2v1.32zM704 297.79v-1.98h2v1.98zM708 375.82v-1.32h2v1.32zM712 347.38v-1.32h2v1.32zM714 218.45v-1.32h2v1.32zM716 190.68v-0.66h2v0.66zM718 198.61v-0.66h2v0.66zM720 188.04v-1.32h2v1.32zM722 287.88v-3.31h2v3.31zM724 336.81v-1.32h2v1.32zM728 279.28v-1.32h2v1.32zM730 227.05v-1.98h2v1.98zM732 168.86v-2.64h2v2.64zM734 172.83v-0.66h2v0.66zM736 267.38v-0.66h3v0.66zM739 338.13v-0.66h2v0.66zM743 213.16v-0.66h2v0.66zM745 191.34v-0.66h2v0.66zM749 157.62v-0.66h2v0.66zM757 166.88v-1.98h2v1.98z" fill="#75204A"/>
<path d="M144.92 542.5h1.15M146.92 542.5h1.15M146.92 542.5h1.15M146.92 539.5h1.15M146.92 538.5h1.15M148.92 542.5h1.15M148.92 541.5h1.15M148.92 540.5h1.15M152.92 543.5h1.15M152.92 542.5h1.15M154.92 543.5h1.15M154.92 542.5h1.15M158.92 543.5h1.15M158.92 542.5h1.15M164.92 543.5h1.15M164.92 542.5h1.15M168.92 543.5h1.15M168.92 542.5h1.15M177.92 542.5h1.15M183.92 542.5h1.15M183.92 542.5h1.15M183.92 541.5h1.15M185.92 542.5h1.15M185.92 541.5h1.15M185.92 540.5h1.15M185.92 538.5h1.15M187.92 542.5h1.15M187.92 541.5h1.15M187.92 540.5h1.15M187.92 540.5h1.15M189.92 542.5h1.15M189.92 541.5h1.15M189.92 540.5h1.15M193.92 543.5h1.15M193.92 542.5h1.15M195.92 542.5h1.15M195.92 542.5h1.15M195.92 541.5h1.15M195.92 540.5h1.15M197.92 542.5h1.15M199.92 542.5h1.15M201.92 542.5h1.15M201.92 540.5h1.15M201.92 539.5h1.15M201.92 539.5h1.15M201.92 537.5h1.15M203.92 543.5h1.15M203.92 542.5h1.15M205.92 542.5h1.15M209.92 542.5h1.15M209.92 541.5h1.15M209.92 539.5h1.15M209.92 536.5h1.15M209.92 535.5h1.15M211.92 542.5h1.15M211.92 540.5h1.15M211.92 539.5h1.15M211.92 538.5h1.15M213.92 542.5h1.15M213.92 541.5h1.15M213.92 540.5h1.15M213.92 539.5h1.15M216.92 542.5h1.15M216.92 541.5h1.15M216.92 539.5h1.15M216.92 538.5h1.15M216.92 537.5h1.15M216.92 537.5h1.15M216.92 536.5h1.15M218.92 542.5h1.15M218.92 541.5h1.15M218.92 539.5h1.15M220.92 543.5h1.15M220.92 542.5h1.15M222.92 542.5h1.15M222.92 540.5h1.15M222.92 538.5h1.15M222.92 536.5h1.15M222.92 535.5h1.15M222.92 533.5h1.15M222.92 533.5h1.15M224.92 542.5h1.15M224.92 540.5h1.15M224.92 538.5h1.15M224.92 537.5h1.15M224.92 535.5h1.15M224.92 534.5h1.15M224.92 532.5h1.15M226.92 542.5h1.15M226.92 541.5h1.15M226.92 537.5h1.15M226.92 529.5h1.15M226.92 526.5h1.15M226.92 522.5h1.15M226.92 518.5h1.15M226.92 517.5h1.15M226.92 516.5h1.15M228.92 542.5h1.15M228.92 539.5h1.15M228.92 537.5h1.15M228.92 527.5h1.15M228.92 520.5h1.15M228.92 515.5h1.15M228.92 514.5h1.15M228.92 513.5h1.15M230.92 542.5h1.15M230.92 534.5h1.15M230.92 531.5h1.15M230.92 527.5h1.15M230.92 523.5h1.15M230.92 521.5h1.15M230.92 519.5h1.15M230.92 517.5h1.15M230.92 517.5h1.15M232.92 541.5h1.15M232.92 539.5h1.15M232.92 535.5h1.15M232.92 527.5h1.15M232.92 521.5h1.15M232.92 515.5h1.15M232.92 509.5h1.15M232.92 504.5h1.15M232.92 501.5h1.15M234.92 542.5h1.15M234.92 541.5h1.15M234.92 535.5h1.15M234.92 527.5h1.15M234.92 515.5h1.15M234.92 506.5h1.15M234.92 500.5h1.15M234.92 498.5h1.15M234.92 496.5h1.15M236.92 541.5h1.15M236.92 541.5h1.15M236.92 539.5h1.15M236.92 538.5h1.15M236.92 537.5h1.15M236.92 535.5h1.15M238.92 541.5h1.15M238.92 539.5h1.15M238.92 532.5h1.15M238.92 525.5h1.15M238.92 513.5h1.15M238.92 504.5h1.15M238.92 500.5h1.15M238.92 494.5h1.15M238.92 492.5h1.15M240.92 541.5h1.15M240.92 532.5h1.15M240.92 524.5h1.15M240.92 514.5h1.15M240.92 511.5h1.15M240.92 508.5h1.15M240.92 505.5h1.15M240.92 502.5h1.15M240.92 500.5h1.15M242.92 541.5h1.15M242.92 539.5h1.15M242.92 529.5h1.15M242.92 517.5h1.15M242.92 504.5h1.15M242.92 497.5h1.15M242.92 487.5h1.15M242.92 484.5h1.15M242.92 481.5h1.15M242.92 478.5h1.15M244.92 541.5h1.15M244.92 541.5h1.15M244.92 535.5h1.15M244.92 523.5h1.15M244.92 512.5h1.15M244.92 500.5h1.15M244.92 496.5h1.15M244.92 488.5h1.15M244.92 482.5h1.15M246.92 541.5h1.15M246.92 540.5h1.15M246.92 526.5h1.15M246.92 514.5h1.15M246.92 502.5h1.15M246.92 486.5h1.15M246.92 474.5h1.15M246.92 469.5h1.15M246.92 467.5h1.15M246.92 465.5h1.15M248.92 541.5h1.15M248.92 538.5h1.15M248.92 527.5h1.15M248.92 502.5h1.15M248.92 486.5h1.15M248.92 468.5h1.15M248.92 461.5h1.15M248.92 455.5h1.15M248.92 453.5h1.15M248.92 450.5h1.15M250.92 542.5h1.15M250.92 529.5h1.15M250.92 519.5h1.15M250.92 508.5h1.15M250.92 498.5h1.15M250.92 492.5h1.15M250.92 490.5h1.15M250.92 488.5h1.15M250.92 487.5h1.15M252.92 542.5h1.15M252.92 541.5h1.15M252.92 535.5h1.15M252.92 523.5h1.15M252.92 514.5h1.15M252.92 499.5h1.15M252.92 491.5h1.15M252.92 487.5h1.15M254.92 541.5h1.15M254.92 539.5h1.15M254.92 522.5h1.15M254.92 496.5h1.15M254.92 482.5h1.15M254.92 466.5h1.15M254.92 447.5h1.15M254.92 445.5h1.15M254.92 441.5h1.15M254.92 440.5h1.15M256.92 541.5h1.15M256.92 539.5h1.15M256.92 515.5h1.15M256.92 484.5h1.15M256.92 469.5h1.15M256.92 449.5h1.15M256.92 435.5h1.15M256.92 429.5h1.15M256.92 426.5h1.15M256.92 423.5h1.15M259.92 541.5h1.15M259.92 538.5h1.15M259.92 512.5h1.15M259.92 486.5h1.15M259.92 468.5h1.15M259.92 445.5h1.15M259.92 429.5h1.15M259.92 421.5h1.15M259.92 415.5h1.15M259.92 412.5h1.15M261.92 539.5h1.15M261.92 539.5h1.15M261.92 517.5h1.15M261.92 494.5h1.15M261.92 465.5h1.15M261.92 443.5h1.15M261.92 428.5h1.15M261.92 421.5h1.15M261.92 415.5h1.15M261.92 414.5h1.15M263.92 541.5h1.15M263.92 540.5h1.15M263.92 517.5h1.15M263.92 496.5h1.15M263.92 474.5h1.15M263.92 453.5h1.15M263.92 447.5h1.15M263.92 439.5h1.15M263.92 429.5h1.15M265.92 541.5h1.15M265.92 527.5h1.15M265.92 515.5h1.15M265.92 505.5h1.15M265.92 490.5h1.15M265.92 485.5h1.15M265.92 482.5h1.15M265.92 478.5h1.15M267.92 541.5h1.15M267.92 539.5h1.15M267.92 527.5h1.15M267.92 506.5h1.15M267.92 489.5h1.15M267.92 469.5h1.15M267.92 457.5h1.15M267.92 449.5h1.15M267.92 443.5h1.15M267.92 439.5h1.15M267.92 438.5h1.15M269.92 541.5h1.15M269.92 540.5h1.15M269.92 527.5h1.15M269.92 509.5h1.15M269.92 489.5h1.15M269.92 478.5h1.15M269.92 470.5h1.15M269.92 463.5h1.15M269.92 461.5h1.15M269.92 459.5h1.15M271.92 542.5h1.15M271.92 541.5h1.15M271.92 525.5h1.15M271.92 504.5h1.15M271.92 489.5h1.15M271.92 469.5h1.15M271.92 459.5h1.15M271.92 453.5h1.15M271.92 445.5h1.15M271.92 443.5h1.15M273.92 541.5h1.15M273.92 539.5h1.15M273.92 517.5h1.15M273.92 498.5h1.15M273.92 475.5h1.15M273.92 448.5h1.15M273.92 437.5h1.15M273.92 420.5h1.15M273.92 413.5h1.15M273.92 409.5h1.15M273.92 408.5h1.15M275.92 542.5h1.15M275.92 541.5h1.15M275.92 523.5h1.15M275.92 501.5h1.15M275.92 482.5h1.15M275.92 456.5h1.15M275.92 445.5h1.15M275.92 435.5h1.15M275.92 426.5h1.15M275.92 422.5h1.15M277.92 542.5h1.15M277.92 529.5h1.15M277.92 518.5h1.15M277.92 504.5h1.15M277.92 487.5h1.15M277.92 480.5h1.15M277.92 476.5h1.15M277.92 472.5h1.15M277.92 471.5h1.15M279.92 542.5h1.15M279.92 541.5h1.15M279.92 531.5h1.15M279.92 517.5h1.15M279.92 506.5h1.15M279.92 496.5h1.15M279.92 488.5h1.15M279.92 483.5h1.15M279.92 481.5h1.15M279.92 476.5h1.15M281.92 541.5h1.15M281.92 539.5h1.15M281.92 533.5h1.15M281.92 514.5h1.15M281.92 500.5h1.15M281.92 484.5h1.15M281.92 476.5h1.15M281.92 469.5h1.15M281.92 467.5h1.15M283.92 541.5h1.15M283.92 540.5h1.15M283.92 525.5h1.15M283.92 512.5h1.15M283.92 499.5h1.15M283.92 494.5h1.15M283.92 486.5h1.15M283.92 477.5h1.15M283.92 466.5h1.15M283.92 463.5h1.15M285.92 542.5h1.15M285.92 540.5h1.15M285.92 522.5h1.15M285.92 509.5h1.15M285.92 493.5h1.15M285.92 484.5h1.15M285.92 475.5h1.15M285.92 469.5h1.15M285.92 461.5h1.15M285.92 455.5h1.15M287.92 542.5h1.15M287.92 539.5h1.15M287.92 526.5h1.15M287.92 504.5h1.15M287.92 482.5h1.15M287.92 466.5h1.15M287.92 452.5h1.15M287.92 447.5h1.15M287.92 433.5h1.15M289.92 541.5h1.15M289.92 530.5h1.15M289.92 520.5h1.15M289.92 508.5h1.15M289.92 494.5h1.15M289.92 487.5h1.15M289.92 480.5h1.15M289.92 471.5h1.15M289.92 467.5h1.15M291.92 541.5h1.15M291.92 533.5h1.15M291.92 524.5h1.15M291.92 514.5h1.15M291.92 506.5h1.15M291.92 501.5h1.15M291.92 498.5h1.15M291.92 493.5h1.15M293.92 542.5h1.15M293.92 537.5h1.15M293.92 533.5h1.15M293.92 527.5h1.15M293.92 524.5h1.15M293.92 523.5h1.15M293.92 520.5h1.15M293.92 517.5h1.15M293.92 516.5h1.15M295.92 541.5h1.15M295.92 537.5h1.15M295.92 528.5h1.15M295.92 517.5h1.15M295.92 513.5h1.15M295.92 495.5h1.15M295.92 489.5h1.15M295.92 481.5h1.15M295.92 471.5h1.15M295.92 469.5h1.15M295.92 469.5h1.15M297.92 542.5h1.15M297.92 536.5h1.15M297.92 535.5h1.15M297.92 529.5h1.15M297.92 525.5h1.15M297.92 522.5h1.15M297.92 519.5h1.15M297.92 514.5h1.15M297.92 512.5h1.15M299.92 542.5h1.15M299.92 537.5h1.15M299.92 527.5h1.15M299.92 521.5h1.15M299.92 517.5h1.15M299.92 515.5h1.15M299.92 514.5h1.15M299.92 509.5h1.15M299.92 505.5h1.15M299.92 504.5h1.15M302.92 541.5h1.15M302.92 538.5h1.15M302.92 523.5h1.15M302.92 510.5h1.15M302.92 490.5h1.15M302.92 475.5h1.15M302.92 465.5h1.15M302.92 456.5h1.15M302.92 444.5h1.15M302.92 435.5h1.15M302.92 434.5h1.15M304.92 541.5h1.15M304.92 539.5h1.15M304.92 529.5h1.15M304.92 512.5h1.15M304.92 500.5h1.15M304.92 488.5h1.15M304.92 476.5h1.15M304.92 461.5h1.15M304.92 452.5h1.15M304.92 444.5h1.15M306.92 541.5h1.15M306.92 534.5h1.15M306.92 523.5h1.15M306.92 508.5h1.15M306.92 505.5h1.15M306.92 500.5h1.15M306.92 493.5h1.15M306.92 486.5h1.15M306.92 483.5h1.15M306.92 482.5h1.15M308.92 541.5h1.15M308.92 537.5h1.15M308.92 525.5h1.15M308.92 519.5h1.15M308.92 510.5h1.15M308.92 500.5h1.15M308.92 493.5h1.15M308.92 490.5h1.15M308.92 488.5h1.15M308.92 486.5h1.15M310.92 541.5h1.15M310.92 535.5h1.15M310.92 529.5h1.15M310.92 527.5h1.15M310.92 523.5h1.15M310.92 518.5h1.15M310.92 513.5h1.15M310.92 507.5h1.15M310.92 506.5h1.15M312.92 541.5h1.15M312.92 538.5h1.15M312.92 535.5h1.15M312.92 530.5h1.15M312.92 528.5h1.15M312.92 524.5h1.15M312.92 523.5h1.15M312.92 519.5h1.15M314.92 542.5h1.15M314.92 539.5h1.15M314.92 538.5h1.15M314.92 536.5h1.15M314.92 533.5h1.15M314.92 533.5h1.15M314.92 531.5h1.15M314.92 529.5h1.15M316.92 541.5h1.15M316.92 541.5h1.15M316.92 535.5h1.15M316.92 531.5h1.15M316.92 527.5h1.15M316.92 524.5h1.15M316.92 523.5h1.15M316.92 521.5h1.15M316.92 519.5h1.15M316.92 517.5h1.15M318.92 542.5h1.15M318.92 540.5h1.15M318.92 536.5h1.15M318.92 530.5h1.15M318.92 527.5h1.15M318.92 525.5h1.15M318.92 523.5h1.15M318.92 519.5h1.15M320.92 539.5h1.15M320.92 537.5h1.15M320.92 534.5h1.15M320.92 532.5h1.15M320.92 531.5h1.15M320.92 530.5h1.15M320.92 529.5h1.15M322.92 542.5h1.15M322.92 541.5h1.15M322.92 539.5h1.15M322.92 538.5h1.15M322.92 535.5h1.15M322.92 535.5h1.15M322.92 534.5h1.15M324.92 542.5h1.15M324.92 538.5h1.15M324.92 536.5h1.15M324.92 533.5h1.15M324.92 532.5h1.15M324.92 529.5h1.15M324.92 527.5h1.15M324.92 525.5h1.15M326.92 542.5h1.15M326.92 541.5h1.15M326.92 541.5h1.15M326.92 539.5h1.15M326.92 539.5h1.15M326.92 537.5h1.15M326.92 537.5h1.15M328.92 538.5h1.15M328.92 533.5h1.15M328.92 530.5h1.15M328.92 527.5h1.15M328.92 527.5h1.15M328.92 526.5h1.15M328.92 523.5h1.15M330.92 542.5h1.15M330.92 542.5h1.15M330.92 541.5h1.15M330.92 540.5h1.15M330.92 539.5h1.15M330.92 538.5h1.15M332.92 539.5h1.15M332.92 538.5h1.15M332.92 537.5h1.15M332.92 537.5h1.15M332.92 536.5h1.15M332.92 535.5h1.15M332.92 534.5h1.15M334.92 542.5h1.15M334.92 542.5h1.15M334.92 541.5h1.15M334.92 540.5h1.15M336.92 542.5h1.15M336.92 541.5h1.15M336.92 541.5h1.15M336.92 540.5h1.15M336.92 539.5h1.15M336.92 537.5h1.15M336.92 537.5h1.15M338.92 542.5h1.15M338.92 542.5h1.15M338.92 540.5h1.15M340.92 542.5h1.15M340.92 542.5h1.15M340.92 541.5h1.15M340.92 540.5h1.15M342.92 542.5h1.15M342.92 541.5h1.15M342.92 540.5h1.15M342.92 539.5h1.15M342.92 538.5h1.15M342.92 536.5h1.15M345.92 543.5h1.15M345.92 542.5h1.15M347.92 542.5h1.15M349.92 540.5h1.15M349.92 537.5h1.15M349.92 537.5h1.15M349.92 536.5h1.15M349.92 535.5h1.15M349.92 534.5h1.15M351.92 542.5h1.15M351.92 541.5h1.15M351.92 540.5h1.15M351.92 539.5h1.15M353.92 542.5h1.15M353.92 540.5h1.15M353.92 539.5h1.15M353.92 538.5h1.15M353.92 537.5h1.15M353.92 537.5h1.15M355.92 541.5h1.15M355.92 541.5h1.15M355.92 539.5h1.15M355.92 537.5h1.15M355.92 536.5h1.15M357.92 542.5h1.15M357.92 539.5h1.15M357.92 537.5h1.15M357.92 535.5h1.15M357.92 534.5h1.15M359.92 542.5h1.15M359.92 538.5h1.15M359.92 537.5h1.15M359.92 535.5h1.15M359.92 533.5h1.15M359.92 531.5h1.15M359.92 531.5h1.15M359.92 530.5h1.15M359.92 529.5h1.15M361.92 542.5h1.15M361.92 539.5h1.15M361.92 538.5h1.15M361.92 536.5h1.15M361.92 535.5h1.15M361.92 534.5h1.15M363.92 542.5h1.15M363.92 541.5h1.15M363.92 540.5h1.15M365.92 542.5h1.15M365.92 541.5h1.15M365.92 538.5h1.15M365.92 537.5h1.15M365.92 535.5h1.15M365.92 535.5h1.15M367.92 541.5h1.15M367.92 540.5h1.15M367.92 531.5h1.15M367.92 529.5h1.15M367.92 527.5h1.15M367.92 526.5h1.15M367.92 525.5h1.15M367.92 523.5h1.15M367.92 521.5h1.15M369.92 542.5h1.15M369.92 539.5h1.15M369.92 538.5h1.15M369.92 537.5h1.15M369.92 536.5h1.15M371.92 542.5h1.15M371.92 535.5h1.15M371.92 529.5h1.15M371.92 529.5h1.15M371.92 528.5h1.15M371.92 527.5h1.15M371.92 525.5h1.15M371.92 525.5h1.15M373.92 542.5h1.15M373.92 537.5h1.15M373.92 534.5h1.15M373.92 533.5h1.15M373.92 533.5h1.15M373.92 532.5h1.15M373.92 531.5h1.15M373.92 530.5h1.15M375.92 542.5h1.15M375.92 536.5h1.15M375.92 534.5h1.15M375.92 531.5h1.15M375.92 529.5h1.15M375.92 527.5h1.15M375.92 527.5h1.15M377.92 542.5h1.15M377.92 541.5h1.15M377.92 538.5h1.15M377.92 536.5h1.15M377.92 535.5h1.15M377.92 535.5h1.15M379.92 542.5h1.15M379.92 541.5h1.15M379.92 540.5h1.15M379.92 537.5h1.15M379.92 535.5h1.15M381.92 539.5h1.15M381.92 538.5h1.15M381.92 537.5h1.15M381.92 536.5h1.15M381.92 535.5h1.15M383.92 539.5h1.15M383.92 535.5h1.15M383.92 535.5h1.15M383.92 534.5h1.15M383.92 533.5h1.15M383.92 532.5h1.15M385.92 537.5h1.15M385.92 535.5h1.15M385.92 533.5h1.15M385.92 531.5h1.15M385.92 529.5h1.15M385.92 529.5h1.15M387.92 536.5h1.15M387.92 535.5h1.15M387.92 534.5h1.15M387.92 531.5h1.15M387.92 530.5h1.15M387.92 528.5h1.15M387.92 527.5h1.15M387.92 527.5h1.15M390.92 542.5h1.15M390.92 537.5h1.15M390.92 533.5h1.15M390.92 531.5h1.15M390.92 529.5h1.15M390.92 528.5h1.15M390.92 527.5h1.15M392.92 542.5h1.15M392.92 531.5h1.15M392.92 522.5h1.15M392.92 520.5h1.15M392.92 517.5h1.15M392.92 515.5h1.15M392.92 513.5h1.15M394.92 542.5h1.15M394.92 539.5h1.15M394.92 529.5h1.15M394.92 519.5h1.15M394.92 514.5h1.15M394.92 514.5h1.15M394.92 513.5h1.15M394.92 512.5h1.15M396.92 542.5h1.15M396.92 536.5h1.15M396.92 531.5h1.15M396.92 530.5h1.15M396.92 529.5h1.15M396.92 527.5h1.15M396.92 526.5h1.15M396.92 525.5h1.15M398.92 542.5h1.15M398.92 539.5h1.15M398.92 538.5h1.15M398.92 535.5h1.15M398.92 534.5h1.15M398.92 533.5h1.15M398.92 533.5h1.15M400.92 542.5h1.15M400.92 527.5h1.15M400.92 522.5h1.15M400.92 520.5h1.15M400.92 519.5h1.15M400.92 518.5h1.15M400.92 517.5h1.15M400.92 517.5h1.15M402.92 542.5h1.15M402.92 531.5h1.15M402.92 523.5h1.15M402.92 523.5h1.15M402.92 522.5h1.15M402.92 521.5h1.15M402.92 521.5h1.15M402.92 520.5h1.15M404.92 542.5h1.15M404.92 535.5h1.15M404.92 525.5h1.15M404.92 523.5h1.15M404.92 521.5h1.15M404.92 519.5h1.15M404.92 517.5h1.15M406.92 542.5h1.15M406.92 536.5h1.15M406.92 531.5h1.15M406.92 524.5h1.15M406.92 522.5h1.15M406.92 521.5h1.15M406.92 520.5h1.15M408.92 542.5h1.15M408.92 541.5h1.15M408.92 534.5h1.15M408.92 531.5h1.15M408.92 527.5h1.15M408.92 525.5h1.15M410.92 542.5h1.15M410.92 532.5h1.15M410.92 530.5h1.15M410.92 529.5h1.15M410.92 525.5h1.15M410.92 524.5h1.15M410.92 523.5h1.15M412.92 541.5h1.15M412.92 522.5h1.15M412.92 515.5h1.15M412.92 510.5h1.15M412.92 508.5h1.15M412.92 508.5h1.15M414.92 541.5h1.15M414.92 529.5h1.15M414.92 518.5h1.15M414.92 517.5h1.15M414.92 516.5h1.15M414.92 513.5h1.15M414.92 512.5h1.15M416.92 542.5h1.15M416.92 541.5h1.15M416.92 521.5h1.15M416.92 514.5h1.15M416.92 512.5h1.15M416.92 511.5h1.15M416.92 508.5h1.15M418.92 542.5h1.15M418.92 523.5h1.15M418.92 516.5h1.15M418.92 511.5h1.15M418.92 509.5h1.15M418.92 507.5h1.15M418.92 506.5h1.15M420.92 541.5h1.15M420.92 541.5h1.15M420.92 523.5h1.15M420.92 514.5h1.15M420.92 510.5h1.15M420.92 506.5h1.15M420.92 505.5h1.15M422.92 542.5h1.15M422.92 541.5h1.15M422.92 521.5h1.15M422.92 515.5h1.15M422.92 510.5h1.15M422.92 508.5h1.15M422.92 505.5h1.15M424.92 541.5h1.15M424.92 527.5h1.15M424.92 520.5h1.15M424.92 516.5h1.15M424.92 514.5h1.15M424.92 510.5h1.15M424.92 510.5h1.15M424.92 508.5h1.15M424.92 508.5h1.15M426.92 542.5h1.15M426.92 541.5h1.15M426.92 519.5h1.15M426.92 510.5h1.15M426.92 506.5h1.15M426.92 504.5h1.15M426.92 500.5h1.15M428.92 542.5h1.15M428.92 541.5h1.15M428.92 516.5h1.15M428.92 497.5h1.15M428.92 490.5h1.15M428.92 478.5h1.15M428.92 476.5h1.15M428.92 474.5h1.15M428.92 473.5h1.15M430.92 542.5h1.15M430.92 538.5h1.15M430.92 499.5h1.15M430.92 476.5h1.15M430.92 471.5h1.15M430.92 466.5h1.15M430.92 465.5h1.15M430.92 462.5h1.15M430.92 461.5h1.15M433.92 542.5h1.15M433.92 537.5h1.15M433.92 496.5h1.15M433.92 478.5h1.15M433.92 474.5h1.15M433.92 465.5h1.15M433.92 458.5h1.15M433.92 457.5h1.15M433.92 457.5h1.15M435.92 542.5h1.15M435.92 541.5h1.15M435.92 509.5h1.15M435.92 488.5h1.15M435.92 476.5h1.15M435.92 473.5h1.15M435.92 471.5h1.15M435.92 471.5h1.15M435.92 470.5h1.15M437.92 542.5h1.15M437.92 541.5h1.15M437.92 505.5h1.15M437.92 492.5h1.15M437.92 484.5h1.15M437.92 480.5h1.15M437.92 479.5h1.15M437.92 477.5h1.15M437.92 476.5h1.15M439.92 541.5h1.15M439.92 540.5h1.15M439.92 504.5h1.15M439.92 488.5h1.15M439.92 478.5h1.15M439.92 476.5h1.15M439.92 474.5h1.15M439.92 474.5h1.15M439.92 473.5h1.15M441.92 541.5h1.15M441.92 537.5h1.15M441.92 509.5h1.15M441.92 499.5h1.15M441.92 497.5h1.15M441.92 496.5h1.15M441.92 495.5h1.15M441.92 494.5h1.15M441.92 494.5h1.15M443.92 537.5h1.15M443.92 530.5h1.15M443.92 447.5h1.15M443.92 417.5h1.15M443.92 410.5h1.15M443.92 404.5h1.15M443.92 397.5h1.15M443.92 396.5h1.15M443.92 396.5h1.15M443.92 395.5h1.15M445.92 539.5h1.15M445.92 531.5h1.15M445.92 457.5h1.15M445.92 418.5h1.15M445.92 407.5h1.15M445.92 395.5h1.15M445.92 389.5h1.15M445.92 387.5h1.15M445.92 384.5h1.15M445.92 383.5h1.15M447.92 540.5h1.15M447.92 537.5h1.15M447.92 472.5h1.15M447.92 445.5h1.15M447.92 433.5h1.15M447.92 424.5h1.15M447.92 412.5h1.15M447.92 409.5h1.15M449.92 541.5h1.15M449.92 539.5h1.15M449.92 463.5h1.15M449.92 438.5h1.15M449.92 422.5h1.15M449.92 418.5h1.15M449.92 414.5h1.15M449.92 410.5h1.15M449.92 408.5h1.15M449.92 407.5h1.15M451.92 542.5h1.15M451.92 541.5h1.15M451.92 510.5h1.15M451.92 488.5h1.15M451.92 478.5h1.15M451.92 473.5h1.15M451.92 472.5h1.15M451.92 471.5h1.15M451.92 467.5h1.15M451.92 465.5h1.15M453.92 542.5h1.15M453.92 541.5h1.15M453.92 494.5h1.15M453.92 478.5h1.15M453.92 471.5h1.15M453.92 463.5h1.15M453.92 453.5h1.15M453.92 452.5h1.15M453.92 451.5h1.15M453.92 449.5h1.15M455.92 538.5h1.15M455.92 537.5h1.15M455.92 478.5h1.15M455.92 457.5h1.15M455.92 444.5h1.15M455.92 441.5h1.15M455.92 439.5h1.15M455.92 437.5h1.15M455.92 435.5h1.15M457.92 541.5h1.15M457.92 537.5h1.15M457.92 449.5h1.15M457.92 414.5h1.15M457.92 391.5h1.15M457.92 374.5h1.15M457.92 365.5h1.15M457.92 359.5h1.15M457.92 357.5h1.15M457.92 355.5h1.15M459.92 540.5h1.15M459.92 535.5h1.15M459.92 450.5h1.15M459.92 419.5h1.15M459.92 391.5h1.15M459.92 377.5h1.15M459.92 367.5h1.15M459.92 358.5h1.15M459.92 352.5h1.15M459.92 351.5h1.15M461.92 536.5h1.15M461.92 527.5h1.15M461.92 429.5h1.15M461.92 398.5h1.15M461.92 383.5h1.15M461.92 369.5h1.15M461.92 359.5h1.15M461.92 357.5h1.15M461.92 354.5h1.15M461.92 353.5h1.15M463.92 541.5h1.15M463.92 540.5h1.15M463.92 482.5h1.15M463.92 454.5h1.15M463.92 443.5h1.15M463.92 433.5h1.15M463.92 427.5h1.15M463.92 423.5h1.15M463.92 420.5h1.15M463.92 420.5h1.15M465.92 542.5h1.15M465.92 536.5h1.15M465.92 486.5h1.15M465.92 461.5h1.15M465.92 447.5h1.15M465.92 439.5h1.15M465.92 435.5h1.15M465.92 434.5h1.15M465.92 434.5h1.15M465.92 433.5h1.15M467.92 542.5h1.15M467.92 533.5h1.15M467.92 455.5h1.15M467.92 428.5h1.15M467.92 411.5h1.15M467.92 399.5h1.15M467.92 392.5h1.15M467.92 389.5h1.15M467.92 387.5h1.15M467.92 387.5h1.15M469.92 539.5h1.15M469.92 537.5h1.15M469.92 464.5h1.15M469.92 432.5h1.15M469.92 412.5h1.15M469.92 404.5h1.15M469.92 396.5h1.15M469.92 390.5h1.15M469.92 387.5h1.15M469.92 386.5h1.15M471.92 537.5h1.15M471.92 525.5h1.15M471.92 414.5h1.15M471.92 367.5h1.15M471.92 340.5h1.15M471.92 320.5h1.15M471.92 312.5h1.15M471.92 309.5h1.15M471.92 305.5h1.15M471.92 301.5h1.15M473.92 539.5h1.15M473.92 537.5h1.15M473.92 455.5h1.15M473.92 414.5h1.15M473.92 396.5h1.15M473.92 387.5h1.15M473.92 379.5h1.15M473.92 375.5h1.15M473.92 372.5h1.15M473.92 371.5h1.15M476.92 540.5h1.15M476.92 535.5h1.15M476.92 444.5h1.15M476.92 408.5h1.15M476.92 385.5h1.15M476.92 373.5h1.15M476.92 362.5h1.15M476.92 354.5h1.15M476.92 352.5h1.15M476.92 350.5h1.15M478.92 538.5h1.15M478.92 533.5h1.15M478.92 474.5h1.15M478.92 439.5h1.15M478.92 418.5h1.15M478.92 402.5h1.15M478.92 393.5h1.15M478.92 391.5h1.15M478.92 390.5h1.15M478.92 387.5h1.15M480.92 539.5h1.15M480.92 535.5h1.15M480.92 493.5h1.15M480.92 476.5h1.15M480.92 471.5h1.15M480.92 465.5h1.15M480.92 461.5h1.15M480.92 459.5h1.15M480.92 457.5h1.15M480.92 457.5h1.15M482.92 539.5h1.15M482.92 530.5h1.15M482.92 453.5h1.15M482.92 414.5h1.15M482.92 396.5h1.15M482.92 385.5h1.15M482.92 373.5h1.15M482.92 369.5h1.15M482.92 368.5h1.15M482.92 367.5h1.15M484.92 537.5h1.15M484.92 535.5h1.15M484.92 459.5h1.15M484.92 420.5h1.15M484.92 407.5h1.15M484.92 393.5h1.15M484.92 385.5h1.15M484.92 381.5h1.15M484.92 379.5h1.15M486.92 536.5h1.15M486.92 525.5h1.15M486.92 420.5h1.15M486.92 368.5h1.15M486.92 334.5h1.15M486.92 324.5h1.15M486.92 315.5h1.15M486.92 309.5h1.15M486.92 305.5h1.15M486.92 304.5h1.15M488.92 536.5h1.15M488.92 530.5h1.15M488.92 398.5h1.15M488.92 318.5h1.15M488.92 299.5h1.15M488.92 267.5h1.15M488.92 248.5h1.15M488.92 246.5h1.15M488.92 240.5h1.15M488.92 239.5h1.15M490.92 536.5h1.15M490.92 527.5h1.15M490.92 385.5h1.15M490.92 313.5h1.15M490.92 279.5h1.15M490.92 255.5h1.15M490.92 240.5h1.15M490.92 234.5h1.15M490.92 232.5h1.15M492.92 535.5h1.15M492.92 531.5h1.15M492.92 441.5h1.15M492.92 400.5h1.15M492.92 374.5h1.15M492.92 366.5h1.15M492.92 355.5h1.15M492.92 352.5h1.15M492.92 351.5h1.15M492.92 350.5h1.15M494.92 541.5h1.15M494.92 537.5h1.15M494.92 466.5h1.15M494.92 426.5h1.15M494.92 410.5h1.15M494.92 394.5h1.15M494.92 383.5h1.15M494.92 379.5h1.15M494.92 378.5h1.15M494.92 375.5h1.15M496.92 536.5h1.15M496.92 531.5h1.15M496.92 452.5h1.15M496.92 399.5h1.15M496.92 378.5h1.15M496.92 361.5h1.15M496.92 350.5h1.15M496.92 345.5h1.15M496.92 343.5h1.15M496.92 340.5h1.15M498.92 537.5h1.15M498.92 529.5h1.15M498.92 452.5h1.15M498.92 418.5h1.15M498.92 403.5h1.15M498.92 390.5h1.15M498.92 379.5h1.15M498.92 372.5h1.15M498.92 371.5h1.15M498.92 369.5h1.15M500.92 539.5h1.15M500.92 529.5h1.15M500.92 438.5h1.15M500.92 378.5h1.15M500.92 355.5h1.15M500.92 330.5h1.15M500.92 315.5h1.15M500.92 310.5h1.15M500.92 306.5h1.15M500.92 305.5h1.15M502.92 539.5h1.15M502.92 520.5h1.15M502.92 413.5h1.15M502.92 335.5h1.15M502.92 298.5h1.15M502.92 270.5h1.15M502.92 252.5h1.15M502.92 248.5h1.15M502.92 242.5h1.15M502.92 239.5h1.15M504.92 536.5h1.15M504.92 526.5h1.15M504.92 408.5h1.15M504.92 350.5h1.15M504.92 312.5h1.15M504.92 282.5h1.15M504.92 272.5h1.15M504.92 262.5h1.15M504.92 260.5h1.15M504.92 260.5h1.15M506.92 538.5h1.15M506.92 535.5h1.15M506.92 443.5h1.15M506.92 397.5h1.15M506.92 364.5h1.15M506.92 350.5h1.15M506.92 336.5h1.15M506.92 330.5h1.15M506.92 326.5h1.15M506.92 324.5h1.15M508.92 541.5h1.15M508.92 536.5h1.15M508.92 485.5h1.15M508.92 453.5h1.15M508.92 430.5h1.15M508.92 424.5h1.15M508.92 418.5h1.15M508.92 416.5h1.15M508.92 414.5h1.15M510.92 541.5h1.15M510.92 535.5h1.15M510.92 491.5h1.15M510.92 458.5h1.15M510.92 438.5h1.15M510.92 433.5h1.15M510.92 429.5h1.15M510.92 425.5h1.15M510.92 422.5h1.15M510.92 420.5h1.15M512.92 541.5h1.15M512.92 537.5h1.15M512.92 478.5h1.15M512.92 448.5h1.15M512.92 423.5h1.15M512.92 414.5h1.15M512.92 404.5h1.15M512.92 400.5h1.15M512.92 399.5h1.15M512.92 396.5h1.15M514.92 541.5h1.15M514.92 537.5h1.15M514.92 471.5h1.15M514.92 441.5h1.15M514.92 433.5h1.15M514.92 420.5h1.15M514.92 416.5h1.15M514.92 411.5h1.15M514.92 408.5h1.15M514.92 408.5h1.15M516.92 541.5h1.15M516.92 525.5h1.15M516.92 437.5h1.15M516.92 387.5h1.15M516.92 345.5h1.15M516.92 313.5h1.15M516.92 303.5h1.15M516.92 291.5h1.15M516.92 288.5h1.15M516.92 287.5h1.15M516.92 286.5h1.15M519.92 541.5h1.15M519.92 530.5h1.15M519.92 435.5h1.15M519.92 381.5h1.15M519.92 356.5h1.15M519.92 330.5h1.15M519.92 314.5h1.15M519.92 302.5h1.15M519.92 291.5h1.15M519.92 289.5h1.15M521.92 537.5h1.15M521.92 533.5h1.15M521.92 464.5h1.15M521.92 443.5h1.15M521.92 413.5h1.15M521.92 396.5h1.15M521.92 384.5h1.15M521.92 375.5h1.15M521.92 373.5h1.15M521.92 371.5h1.15M523.92 542.5h1.15M523.92 541.5h1.15M523.92 515.5h1.15M523.92 478.5h1.15M523.92 463.5h1.15M523.92 451.5h1.15M523.92 449.5h1.15M523.92 442.5h1.15M523.92 440.5h1.15M523.92 437.5h1.15M525.92 538.5h1.15M525.92 536.5h1.15M525.92 490.5h1.15M525.92 461.5h1.15M525.92 445.5h1.15M525.92 428.5h1.15M525.92 419.5h1.15M525.92 408.5h1.15M525.92 406.5h1.15M527.92 539.5h1.15M527.92 534.5h1.15M527.92 493.5h1.15M527.92 469.5h1.15M527.92 447.5h1.15M527.92 431.5h1.15M527.92 428.5h1.15M527.92 422.5h1.15M527.92 421.5h1.15M527.92 420.5h1.15M529.92 538.5h1.15M529.92 533.5h1.15M529.92 466.5h1.15M529.92 426.5h1.15M529.92 391.5h1.15M529.92 361.5h1.15M529.92 340.5h1.15M529.92 325.5h1.15M529.92 321.5h1.15M529.92 319.5h1.15M531.92 535.5h1.15M531.92 526.5h1.15M531.92 485.5h1.15M531.92 454.5h1.15M531.92 434.5h1.15M531.92 408.5h1.15M531.92 395.5h1.15M531.92 385.5h1.15M531.92 375.5h1.15M531.92 374.5h1.15M533.92 537.5h1.15M533.92 533.5h1.15M533.92 486.5h1.15M533.92 454.5h1.15M533.92 438.5h1.15M533.92 412.5h1.15M533.92 397.5h1.15M533.92 383.5h1.15M533.92 377.5h1.15M533.92 375.5h1.15M535.92 541.5h1.15M535.92 536.5h1.15M535.92 495.5h1.15M535.92 463.5h1.15M535.92 445.5h1.15M535.92 426.5h1.15M535.92 414.5h1.15M535.92 407.5h1.15M535.92 404.5h1.15M537.92 542.5h1.15M537.92 540.5h1.15M537.92 520.5h1.15M537.92 506.5h1.15M537.92 499.5h1.15M537.92 491.5h1.15M537.92 486.5h1.15M537.92 482.5h1.15M537.92 480.5h1.15M539.92 539.5h1.15M539.92 533.5h1.15M539.92 496.5h1.15M539.92 471.5h1.15M539.92 452.5h1.15M539.92 439.5h1.15M539.92 436.5h1.15M539.92 428.5h1.15M539.92 424.5h1.15M539.92 423.5h1.15M541.92 541.5h1.15M541.92 532.5h1.15M541.92 487.5h1.15M541.92 445.5h1.15M541.92 427.5h1.15M541.92 409.5h1.15M541.92 400.5h1.15M541.92 393.5h1.15M541.92 388.5h1.15M541.92 387.5h1.15M543.92 541.5h1.15M543.92 533.5h1.15M543.92 488.5h1.15M543.92 455.5h1.15M543.92 427.5h1.15M543.92 407.5h1.15M543.92 399.5h1.15M543.92 390.5h1.15M543.92 384.5h1.15M543.92 379.5h1.15M545.92 541.5h1.15M545.92 537.5h1.15M545.92 502.5h1.15M545.92 473.5h1.15M545.92 448.5h1.15M545.92 424.5h1.15M545.92 416.5h1.15M545.92 404.5h1.15M545.92 397.5h1.15M545.92 394.5h1.15M547.92 540.5h1.15M547.92 534.5h1.15M547.92 496.5h1.15M547.92 463.5h1.15M547.92 435.5h1.15M547.92 412.5h1.15M547.92 401.5h1.15M547.92 390.5h1.15M547.92 381.5h1.15M547.92 380.5h1.15M549.92 540.5h1.15M549.92 535.5h1.15M549.92 503.5h1.15M549.92 482.5h1.15M549.92 470.5h1.15M549.92 461.5h1.15M549.92 457.5h1.15M549.92 449.5h1.15M549.92 445.5h1.15M551.92 542.5h1.15M551.92 541.5h1.15M551.92 519.5h1.15M551.92 502.5h1.15M551.92 494.5h1.15M551.92 490.5h1.15M551.92 485.5h1.15M551.92 481.5h1.15M551.92 478.5h1.15M551.92 477.5h1.15M553.92 539.5h1.15M553.92 535.5h1.15M553.92 506.5h1.15M553.92 484.5h1.15M553.92 462.5h1.15M553.92 451.5h1.15M553.92 441.5h1.15M553.92 436.5h1.15M553.92 434.5h1.15M553.92 431.5h1.15M555.92 540.5h1.15M555.92 539.5h1.15M555.92 517.5h1.15M555.92 499.5h1.15M555.92 483.5h1.15M555.92 475.5h1.15M555.92 466.5h1.15M555.92 460.5h1.15M555.92 453.5h1.15M555.92 451.5h1.15M557.92 540.5h1.15M557.92 536.5h1.15M557.92 500.5h1.15M557.92 475.5h1.15M557.92 451.5h1.15M557.92 440.5h1.15M557.92 428.5h1.15M557.92 416.5h1.15M557.92 406.5h1.15M557.92 404.5h1.15M559.92 541.5h1.15M559.92 540.5h1.15M559.92 521.5h1.15M559.92 506.5h1.15M559.92 486.5h1.15M559.92 472.5h1.15M559.92 467.5h1.15M559.92 459.5h1.15M559.92 454.5h1.15M561.92 541.5h1.15M561.92 540.5h1.15M561.92 513.5h1.15M561.92 485.5h1.15M561.92 462.5h1.15M561.92 448.5h1.15M561.92 441.5h1.15M561.92 434.5h1.15M561.92 426.5h1.15M561.92 424.5h1.15M564.92 541.5h1.15M564.92 537.5h1.15M564.92 519.5h1.15M564.92 510.5h1.15M564.92 497.5h1.15M564.92 483.5h1.15M564.92 479.5h1.15M564.92 474.5h1.15M564.92 468.5h1.15M564.92 467.5h1.15M566.92 541.5h1.15M566.92 538.5h1.15M566.92 529.5h1.15M566.92 515.5h1.15M566.92 512.5h1.15M566.92 506.5h1.15M566.92 500.5h1.15M566.92 493.5h1.15M566.92 492.5h1.15M568.92 540.5h1.15M568.92 535.5h1.15M568.92 514.5h1.15M568.92 492.5h1.15M568.92 474.5h1.15M568.92 459.5h1.15M568.92 448.5h1.15M568.92 437.5h1.15M568.92 433.5h1.15M568.92 431.5h1.15M570.92 542.5h1.15M570.92 538.5h1.15M570.92 519.5h1.15M570.92 503.5h1.15M570.92 484.5h1.15M570.92 473.5h1.15M570.92 461.5h1.15M570.92 453.5h1.15M570.92 447.5h1.15M570.92 445.5h1.15M570.92 445.5h1.15M572.92 541.5h1.15M572.92 533.5h1.15M572.92 490.5h1.15M572.92 452.5h1.15M572.92 414.5h1.15M572.92 390.5h1.15M572.92 379.5h1.15M572.92 372.5h1.15M572.92 363.5h1.15M572.92 361.5h1.15M574.92 539.5h1.15M574.92 534.5h1.15M574.92 508.5h1.15M574.92 490.5h1.15M574.92 471.5h1.15M574.92 450.5h1.15M574.92 435.5h1.15M574.92 432.5h1.15M574.92 424.5h1.15M574.92 420.5h1.15M576.92 541.5h1.15M576.92 534.5h1.15M576.92 499.5h1.15M576.92 474.5h1.15M576.92 455.5h1.15M576.92 430.5h1.15M576.92 420.5h1.15M576.92 404.5h1.15M576.92 396.5h1.15M578.92 540.5h1.15M578.92 539.5h1.15M578.92 508.5h1.15M578.92 496.5h1.15M578.92 485.5h1.15M578.92 471.5h1.15M578.92 461.5h1.15M578.92 451.5h1.15M578.92 447.5h1.15M580.92 539.5h1.15M580.92 527.5h1.15M580.92 517.5h1.15M580.92 512.5h1.15M580.92 504.5h1.15M580.92 499.5h1.15M580.92 495.5h1.15M580.92 490.5h1.15M582.92 541.5h1.15M582.92 533.5h1.15M582.92 509.5h1.15M582.92 484.5h1.15M582.92 465.5h1.15M582.92 442.5h1.15M582.92 433.5h1.15M582.92 428.5h1.15M582.92 420.5h1.15M582.92 418.5h1.15M584.92 542.5h1.15M584.92 539.5h1.15M584.92 517.5h1.15M584.92 498.5h1.15M584.92 484.5h1.15M584.92 467.5h1.15M584.92 451.5h1.15M584.92 445.5h1.15M584.92 436.5h1.15M584.92 435.5h1.15M586.92 541.5h1.15M586.92 537.5h1.15M586.92 515.5h1.15M586.92 498.5h1.15M586.92 482.5h1.15M586.92 460.5h1.15M586.92 445.5h1.15M586.92 437.5h1.15M586.92 432.5h1.15M586.92 431.5h1.15M588.92 539.5h1.15M588.92 534.5h1.15M588.92 505.5h1.15M588.92 482.5h1.15M588.92 453.5h1.15M588.92 430.5h1.15M588.92 420.5h1.15M588.92 405.5h1.15M588.92 401.5h1.15M590.92 540.5h1.15M590.92 535.5h1.15M590.92 501.5h1.15M590.92 480.5h1.15M590.92 453.5h1.15M590.92 430.5h1.15M590.92 417.5h1.15M590.92 406.5h1.15M590.92 401.5h1.15M590.92 399.5h1.15M592.92 541.5h1.15M592.92 535.5h1.15M592.92 508.5h1.15M592.92 486.5h1.15M592.92 471.5h1.15M592.92 458.5h1.15M592.92 449.5h1.15M592.92 441.5h1.15M592.92 439.5h1.15M594.92 542.5h1.15M594.92 541.5h1.15M594.92 524.5h1.15M594.92 514.5h1.15M594.92 502.5h1.15M594.92 492.5h1.15M594.92 488.5h1.15M594.92 483.5h1.15M594.92 478.5h1.15M596.92 542.5h1.15M596.92 541.5h1.15M596.92 529.5h1.15M596.92 517.5h1.15M596.92 506.5h1.15M596.92 498.5h1.15M596.92 493.5h1.15M596.92 488.5h1.15M596.92 486.5h1.15M596.92 485.5h1.15M598.92 541.5h1.15M598.92 541.5h1.15M598.92 529.5h1.15M598.92 525.5h1.15M598.92 518.5h1.15M598.92 511.5h1.15M598.92 510.5h1.15M598.92 505.5h1.15M598.92 504.5h1.15M600.92 541.5h1.15M600.92 539.5h1.15M600.92 508.5h1.15M600.92 483.5h1.15M600.92 463.5h1.15M600.92 445.5h1.15M600.92 439.5h1.15M600.92 431.5h1.15M600.92 419.5h1.15M602.92 540.5h1.15M602.92 534.5h1.15M602.92 506.5h1.15M602.92 489.5h1.15M602.92 471.5h1.15M602.92 454.5h1.15M602.92 438.5h1.15M602.92 426.5h1.15M602.92 419.5h1.15M602.92 415.5h1.15M604.92 541.5h1.15M604.92 533.5h1.15M604.92 484.5h1.15M604.92 454.5h1.15M604.92 428.5h1.15M604.92 411.5h1.15M604.92 392.5h1.15M604.92 378.5h1.15M604.92 369.5h1.15M604.92 365.5h1.15M607.92 541.5h1.15M607.92 539.5h1.15M607.92 515.5h1.15M607.92 490.5h1.15M607.92 478.5h1.15M607.92 469.5h1.15M607.92 462.5h1.15M607.92 455.5h1.15M607.92 449.5h1.15M607.92 448.5h1.15M609.92 541.5h1.15M609.92 539.5h1.15M609.92 529.5h1.15M609.92 515.5h1.15M609.92 509.5h1.15M609.92 503.5h1.15M609.92 498.5h1.15M609.92 493.5h1.15M609.92 492.5h1.15M609.92 492.5h1.15M611.92 538.5h1.15M611.92 533.5h1.15M611.92 501.5h1.15M611.92 472.5h1.15M611.92 463.5h1.15M611.92 438.5h1.15M611.92 422.5h1.15M611.92 411.5h1.15M611.92 405.5h1.15M611.92 404.5h1.15M613.92 541.5h1.15M613.92 532.5h1.15M613.92 514.5h1.15M613.92 488.5h1.15M613.92 464.5h1.15M613.92 443.5h1.15M613.92 435.5h1.15M613.92 427.5h1.15M613.92 416.5h1.15M615.92 541.5h1.15M615.92 534.5h1.15M615.92 496.5h1.15M615.92 477.5h1.15M615.92 445.5h1.15M615.92 426.5h1.15M615.92 414.5h1.15M615.92 396.5h1.15M615.92 389.5h1.15M617.92 542.5h1.15M617.92 539.5h1.15M617.92 508.5h1.15M617.92 482.5h1.15M617.92 469.5h1.15M617.92 441.5h1.15M617.92 432.5h1.15M617.92 423.5h1.15M617.92 417.5h1.15M617.92 414.5h1.15M619.92 537.5h1.15M619.92 532.5h1.15M619.92 507.5h1.15M619.92 478.5h1.15M619.92 461.5h1.15M619.92 443.5h1.15M619.92 428.5h1.15M619.92 416.5h1.15M619.92 410.5h1.15M621.92 541.5h1.15M621.92 539.5h1.15M621.92 517.5h1.15M621.92 506.5h1.15M621.92 492.5h1.15M621.92 481.5h1.15M621.92 478.5h1.15M621.92 476.5h1.15M621.92 475.5h1.15M621.92 472.5h1.15M623.92 541.5h1.15M623.92 539.5h1.15M623.92 529.5h1.15M623.92 522.5h1.15M623.92 516.5h1.15M623.92 510.5h1.15M623.92 506.5h1.15M623.92 502.5h1.15M623.92 500.5h1.15M625.92 542.5h1.15M625.92 540.5h1.15M625.92 511.5h1.15M625.92 487.5h1.15M625.92 467.5h1.15M625.92 459.5h1.15M625.92 447.5h1.15M625.92 437.5h1.15M625.92 428.5h1.15M625.92 426.5h1.15M627.92 541.5h1.15M627.92 535.5h1.15M627.92 511.5h1.15M627.92 498.5h1.15M627.92 481.5h1.15M627.92 470.5h1.15M627.92 464.5h1.15M627.92 453.5h1.15M627.92 449.5h1.15M629.92 539.5h1.15M629.92 532.5h1.15M629.92 490.5h1.15M629.92 459.5h1.15M629.92 437.5h1.15M629.92 411.5h1.15M629.92 399.5h1.15M629.92 389.5h1.15M629.92 382.5h1.15M629.92 379.5h1.15M631.92 540.5h1.15M631.92 535.5h1.15M631.92 510.5h1.15M631.92 488.5h1.15M631.92 467.5h1.15M631.92 445.5h1.15M631.92 430.5h1.15M631.92 418.5h1.15M631.92 410.5h1.15M633.92 541.5h1.15M633.92 535.5h1.15M633.92 502.5h1.15M633.92 468.5h1.15M633.92 442.5h1.15M633.92 418.5h1.15M633.92 399.5h1.15M633.92 388.5h1.15M633.92 379.5h1.15M635.92 540.5h1.15M635.92 538.5h1.15M635.92 517.5h1.15M635.92 494.5h1.15M635.92 486.5h1.15M635.92 472.5h1.15M635.92 461.5h1.15M635.92 451.5h1.15M635.92 449.5h1.15M637.92 541.5h1.15M637.92 540.5h1.15M637.92 529.5h1.15M637.92 521.5h1.15M637.92 512.5h1.15M637.92 505.5h1.15M637.92 498.5h1.15M637.92 493.5h1.15M637.92 492.5h1.15M639.92 541.5h1.15M639.92 535.5h1.15M639.92 510.5h1.15M639.92 499.5h1.15M639.92 480.5h1.15M639.92 463.5h1.15M639.92 451.5h1.15M639.92 444.5h1.15M639.92 435.5h1.15M641.92 541.5h1.15M641.92 539.5h1.15M641.92 521.5h1.15M641.92 494.5h1.15M641.92 473.5h1.15M641.92 455.5h1.15M641.92 441.5h1.15M641.92 432.5h1.15M641.92 430.5h1.15M641.92 427.5h1.15M641.92 426.5h1.15M643.92 541.5h1.15M643.92 532.5h1.15M643.92 486.5h1.15M643.92 456.5h1.15M643.92 429.5h1.15M643.92 401.5h1.15M643.92 385.5h1.15M643.92 368.5h1.15M643.92 359.5h1.15M645.92 542.5h1.15M645.92 533.5h1.15M645.92 510.5h1.15M645.92 485.5h1.15M645.92 465.5h1.15M645.92 445.5h1.15M645.92 434.5h1.15M645.92 428.5h1.15M645.92 422.5h1.15M645.92 422.5h1.15M647.92 541.5h1.15M647.92 535.5h1.15M647.92 496.5h1.15M647.92 459.5h1.15M647.92 439.5h1.15M647.92 420.5h1.15M647.92 412.5h1.15M647.92 404.5h1.15M647.92 395.5h1.15M647.92 389.5h1.15M650.92 541.5h1.15M650.92 539.5h1.15M650.92 515.5h1.15M650.92 510.5h1.15M650.92 499.5h1.15M650.92 488.5h1.15M650.92 476.5h1.15M650.92 466.5h1.15M650.92 458.5h1.15M650.92 457.5h1.15M650.92 456.5h1.15M652.92 541.5h1.15M652.92 539.5h1.15M652.92 527.5h1.15M652.92 519.5h1.15M652.92 514.5h1.15M652.92 501.5h1.15M652.92 497.5h1.15M652.92 496.5h1.15M652.92 492.5h1.15M652.92 492.5h1.15M654.92 541.5h1.15M654.92 539.5h1.15M654.92 523.5h1.15M654.92 507.5h1.15M654.92 495.5h1.15M654.92 482.5h1.15M654.92 465.5h1.15M654.92 458.5h1.15M654.92 455.5h1.15M654.92 451.5h1.15M656.92 541.5h1.15M656.92 536.5h1.15M656.92 515.5h1.15M656.92 494.5h1.15M656.92 477.5h1.15M656.92 461.5h1.15M656.92 455.5h1.15M656.92 449.5h1.15M656.92 446.5h1.15M658.92 540.5h1.15M658.92 531.5h1.15M658.92 501.5h1.15M658.92 485.5h1.15M658.92 469.5h1.15M658.92 451.5h1.15M658.92 441.5h1.15M658.92 432.5h1.15M658.92 424.5h1.15M658.92 421.5h1.15M660.92 541.5h1.15M660.92 535.5h1.15M660.92 504.5h1.15M660.92 482.5h1.15M660.92 466.5h1.15M660.92 447.5h1.15M660.92 437.5h1.15M660.92 433.5h1.15M660.92 422.5h1.15M660.92 420.5h1.15M662.92 542.5h1.15M662.92 533.5h1.15M662.92 506.5h1.15M662.92 476.5h1.15M662.92 457.5h1.15M662.92 437.5h1.15M662.92 424.5h1.15M662.92 414.5h1.15M662.92 411.5h1.15M662.92 410.5h1.15M664.92 542.5h1.15M664.92 538.5h1.15M664.92 518.5h1.15M664.92 500.5h1.15M664.92 484.5h1.15M664.92 478.5h1.15M664.92 470.5h1.15M664.92 465.5h1.15M664.92 461.5h1.15M666.92 542.5h1.15M666.92 535.5h1.15M666.92 515.5h1.15M666.92 503.5h1.15M666.92 491.5h1.15M666.92 485.5h1.15M666.92 483.5h1.15M666.92 481.5h1.15M666.92 478.5h1.15M668.92 541.5h1.15M668.92 538.5h1.15M668.92 517.5h1.15M668.92 494.5h1.15M668.92 477.5h1.15M668.92 464.5h1.15M668.92 457.5h1.15M668.92 451.5h1.15M668.92 445.5h1.15M668.92 440.5h1.15M670.92 542.5h1.15M670.92 537.5h1.15M670.92 515.5h1.15M670.92 492.5h1.15M670.92 473.5h1.15M670.92 455.5h1.15M670.92 440.5h1.15M670.92 434.5h1.15M670.92 432.5h1.15M672.92 538.5h1.15M672.92 527.5h1.15M672.92 499.5h1.15M672.92 468.5h1.15M672.92 439.5h1.15M672.92 428.5h1.15M672.92 414.5h1.15M672.92 404.5h1.15M672.92 401.5h1.15M674.92 539.5h1.15M674.92 532.5h1.15M674.92 497.5h1.15M674.92 469.5h1.15M674.92 447.5h1.15M674.92 435.5h1.15M674.92 425.5h1.15M674.92 416.5h1.15M674.92 413.5h1.15M676.92 541.5h1.15M676.92 534.5h1.15M676.92 496.5h1.15M676.92 469.5h1.15M676.92 447.5h1.15M676.92 430.5h1.15M676.92 420.5h1.15M676.92 410.5h1.15M676.92 405.5h1.15M676.92 401.5h1.15M678.92 541.5h1.15M678.92 535.5h1.15M678.92 515.5h1.15M678.92 500.5h1.15M678.92 490.5h1.15M678.92 482.5h1.15M678.92 477.5h1.15M678.92 471.5h1.15M678.92 467.5h1.15M680.92 541.5h1.15M680.92 536.5h1.15M680.92 520.5h1.15M680.92 513.5h1.15M680.92 504.5h1.15M680.92 496.5h1.15M680.92 493.5h1.15M680.92 488.5h1.15M680.92 486.5h1.15M680.92 486.5h1.15M682.92 539.5h1.15M682.92 536.5h1.15M682.92 508.5h1.15M682.92 477.5h1.15M682.92 454.5h1.15M682.92 437.5h1.15M682.92 420.5h1.15M682.92 412.5h1.15M682.92 409.5h1.15M682.92 405.5h1.15M684.92 541.5h1.15M684.92 539.5h1.15M684.92 524.5h1.15M684.92 508.5h1.15M684.92 490.5h1.15M684.92 482.5h1.15M684.92 471.5h1.15M684.92 465.5h1.15M684.92 464.5h1.15M686.92 541.5h1.15M686.92 529.5h1.15M686.92 486.5h1.15M686.92 443.5h1.15M686.92 423.5h1.15M686.92 396.5h1.15M686.92 383.5h1.15M686.92 377.5h1.15M686.92 369.5h1.15M688.92 539.5h1.15M688.92 536.5h1.15M688.92 497.5h1.15M688.92 466.5h1.15M688.92 436.5h1.15M688.92 413.5h1.15M688.92 400.5h1.15M688.92 391.5h1.15M688.92 385.5h1.15M688.92 384.5h1.15M688.92 383.5h1.15M690.92 539.5h1.15M690.92 534.5h1.15M690.92 480.5h1.15M690.92 441.5h1.15M690.92 420.5h1.15M690.92 393.5h1.15M690.92 371.5h1.15M690.92 360.5h1.15M690.92 352.5h1.15M690.92 350.5h1.15M692.92 535.5h1.15M692.92 529.5h1.15M692.92 500.5h1.15M692.92 473.5h1.15M692.92 457.5h1.15M692.92 438.5h1.15M692.92 427.5h1.15M692.92 423.5h1.15M692.92 421.5h1.15M692.92 419.5h1.15M692.92 418.5h1.15M695.92 538.5h1.15M695.92 536.5h1.15M695.92 506.5h1.15M695.92 487.5h1.15M695.92 470.5h1.15M695.92 454.5h1.15M695.92 449.5h1.15M695.92 443.5h1.15M695.92 441.5h1.15M697.92 537.5h1.15M697.92 530.5h1.15M697.92 473.5h1.15M697.92 439.5h1.15M697.92 406.5h1.15M697.92 379.5h1.15M697.92 369.5h1.15M697.92 358.5h1.15M697.92 353.5h1.15M697.92 351.5h1.15M699.92 538.5h1.15M699.92 521.5h1.15M699.92 461.5h1.15M699.92 426.5h1.15M699.92 406.5h1.15M699.92 373.5h1.15M699.92 365.5h1.15M699.92 349.5h1.15M699.92 337.5h1.15M701.92 535.5h1.15M701.92 523.5h1.15M701.92 459.5h1.15M701.92 408.5h1.15M701.92 359.5h1.15M701.92 326.5h1.15M701.92 305.5h1.15M701.92 293.5h1.15M701.92 285.5h1.15M701.92 284.5h1.15M703.92 535.5h1.15M703.92 525.5h1.15M703.92 457.5h1.15M703.92 410.5h1.15M703.92 370.5h1.15M703.92 335.5h1.15M703.92 314.5h1.15M703.92 308.5h1.15M703.92 303.5h1.15M703.92 297.5h1.15M705.92 538.5h1.15M705.92 529.5h1.15M705.92 466.5h1.15M705.92 421.5h1.15M705.92 379.5h1.15M705.92 348.5h1.15M705.92 334.5h1.15M705.92 318.5h1.15M705.92 313.5h1.15M707.92 537.5h1.15M707.92 529.5h1.15M707.92 483.5h1.15M707.92 451.5h1.15M707.92 418.5h1.15M707.92 408.5h1.15M707.92 396.5h1.15M707.92 385.5h1.15M707.92 381.5h1.15M707.92 376.5h1.15M707.92 375.5h1.15M709.92 538.5h1.15M709.92 531.5h1.15M709.92 503.5h1.15M709.92 484.5h1.15M709.92 467.5h1.15M709.92 453.5h1.15M709.92 443.5h1.15M709.92 437.5h1.15M709.92 425.5h1.15M709.92 424.5h1.15M711.92 538.5h1.15M711.92 525.5h1.15M711.92 475.5h1.15M711.92 441.5h1.15M711.92 405.5h1.15M711.92 377.5h1.15M711.92 369.5h1.15M711.92 355.5h1.15M711.92 350.5h1.15M711.92 348.5h1.15M711.92 347.5h1.15M713.92 536.5h1.15M713.92 511.5h1.15M713.92 432.5h1.15M713.92 369.5h1.15M713.92 315.5h1.15M713.92 269.5h1.15M713.92 254.5h1.15M713.92 240.5h1.15M713.92 231.5h1.15M713.92 219.5h1.15M713.92 218.5h1.15M715.92 537.5h1.15M715.92 518.5h1.15M715.92 448.5h1.15M715.92 371.5h1.15M715.92 315.5h1.15M715.92 259.5h1.15M715.92 234.5h1.15M715.92 211.5h1.15M715.92 196.5h1.15M715.92 190.5h1.15M717.92 538.5h1.15M717.92 526.5h1.15M717.92 448.5h1.15M717.92 383.5h1.15M717.92 325.5h1.15M717.92 275.5h1.15M717.92 246.5h1.15M717.92 221.5h1.15M717.92 207.5h1.15M717.92 199.5h1.15M717.92 198.5h1.15M719.92 531.5h1.15M719.92 507.5h1.15M719.92 442.5h1.15M719.92 361.5h1.15M719.92 304.5h1.15M719.92 263.5h1.15M719.92 234.5h1.15M719.92 211.5h1.15M719.92 193.5h1.15M719.92 188.5h1.15M721.92 535.5h1.15M721.92 521.5h1.15M721.92 465.5h1.15M721.92 410.5h1.15M721.92 379.5h1.15M721.92 346.5h1.15M721.92 326.5h1.15M721.92 307.5h1.15M721.92 294.5h1.15M721.92 288.5h1.15M721.92 287.5h1.15M723.92 541.5h1.15M723.92 531.5h1.15M723.92 470.5h1.15M723.92 427.5h1.15M723.92 406.5h1.15M723.92 377.5h1.15M723.92 366.5h1.15M723.92 355.5h1.15M723.92 345.5h1.15M723.92 337.5h1.15M723.92 336.5h1.15M725.92 537.5h1.15M725.92 530.5h1.15M725.92 506.5h1.15M725.92 479.5h1.15M725.92 457.5h1.15M725.92 439.5h1.15M725.92 431.5h1.15M725.92 424.5h1.15M725.92 421.5h1.15M727.92 536.5h1.15M727.92 517.5h1.15M727.92 455.5h1.15M727.92 400.5h1.15M727.92 366.5h1.15M727.92 335.5h1.15M727.92 311.5h1.15M727.92 297.5h1.15M727.92 282.5h1.15M727.92 279.5h1.15M727.92 279.5h1.15M729.92 533.5h1.15M729.92 519.5h1.15M729.92 455.5h1.15M729.92 391.5h1.15M729.92 343.5h1.15M729.92 289.5h1.15M729.92 266.5h1.15M729.92 248.5h1.15M729.92 234.5h1.15M729.92 227.5h1.15M729.92 227.5h1.15M731.92 538.5h1.15M731.92 508.5h1.15M731.92 410.5h1.15M731.92 336.5h1.15M731.92 287.5h1.15M731.92 234.5h1.15M731.92 203.5h1.15M731.92 190.5h1.15M731.92 172.5h1.15M731.92 170.5h1.15M731.92 168.5h1.15M733.92 531.5h1.15M733.92 521.5h1.15M733.92 432.5h1.15M733.92 355.5h1.15M733.92 304.5h1.15M733.92 252.5h1.15M733.92 217.5h1.15M733.92 196.5h1.15M733.92 180.5h1.15M733.92 174.5h1.15M733.92 172.5h1.15M735.92 531.5h1.15M735.92 521.5h1.15M735.92 449.5h1.15M735.92 402.5h1.15M735.92 364.5h1.15M735.92 328.5h1.15M735.92 301.5h1.15M735.92 289.5h1.15M735.92 273.5h1.15M735.92 269.5h1.15M735.92 267.5h1.15M738.92 537.5h1.15M738.92 529.5h1.15M738.92 477.5h1.15M738.92 442.5h1.15M738.92 414.5h1.15M738.92 378.5h1.15M738.92 363.5h1.15M738.92 348.5h1.15M738.92 342.5h1.15M738.92 338.5h1.15M740.92 538.5h1.15M740.92 531.5h1.15M740.92 484.5h1.15M740.92 424.5h1.15M740.92 381.5h1.15M740.92 355.5h1.15M740.92 326.5h1.15M740.92 313.5h1.15M740.92 302.5h1.15M742.92 537.5h1.15M742.92 515.5h1.15M742.92 436.5h1.15M742.92 384.5h1.15M742.92 326.5h1.15M742.92 282.5h1.15M742.92 254.5h1.15M742.92 233.5h1.15M742.92 216.5h1.15M742.92 213.5h1.15M744.92 535.5h1.15M744.92 514.5h1.15M744.92 445.5h1.15M744.92 361.5h1.15M744.92 311.5h1.15M744.92 266.5h1.15M744.92 234.5h1.15M744.92 209.5h1.15M744.92 194.5h1.15M744.92 191.5h1.15M746.92 533.5h1.15M746.92 515.5h1.15M746.92 445.5h1.15M746.92 389.5h1.15M746.92 348.5h1.15M746.92 308.5h1.15M746.92 283.5h1.15M746.92 268.5h1.15M746.92 255.5h1.15M748.92 532.5h1.15M748.92 514.5h1.15M748.92 427.5h1.15M748.92 350.5h1.15M748.92 288.5h1.15M748.92 232.5h1.15M748.92 203.5h1.15M748.92 180.5h1.15M748.92 164.5h1.15M748.92 157.5h1.15M750.92 541.5h1.15M750.92 528.5h1.15M750.92 482.5h1.15M750.92 435.5h1.15M750.92 399.5h1.15M750.92 367.5h1.15M750.92 348.5h1.15M750.92 339.5h1.15M750.92 335.5h1.15M750.92 328.5h1.15M752.92 534.5h1.15M752.92 520.5h1.15M752.92 489.5h1.15M752.92 440.5h1.15M752.92 414.5h1.15M752.92 378.5h1.15M752.92 365.5h1.15M752.92 354.5h1.15M752.92 350.5h1.15M752.92 346.5h1.15M754.92 541.5h1.15M754.92 521.5h1.15M754.92 458.5h1.15M754.92 408.5h1.15M754.92 377.5h1.15M754.92 353.5h1.15M754.92 343.5h1.15M754.92 326.5h1.15M754.92 312.5h1.15M754.92 311.5h1.15M756.92 535.5h1.15M756.92 512.5h1.15M756.92 426.5h1.15M756.92 348.5h1.15M756.92 295.5h1.15M756.92 248.5h1.15M756.92 219.5h1.15M756.92 193.5h1.15M756.92 174.5h1.15M756.92 168.5h1.15M756.92 166.5h1.15" stroke="#0c0c14" stroke-opacity="0.78" stroke-width="1.15" fill="none"/>
</g>
<text class="k" font-size="35.2" y="52.6" x="152.9 191.1 229.3 267.7">東京都の</text>
<g transform="translate(362.4 0) scale(1.05 1)"><text class="l" font-size="35.2" y="52.6" x="-62.67 -44.76 -26.86 -8.95 8.95 26.86 44.76 62.67">COVID-19</text></g>
<text class="k" font-size="35.2" y="52.6" x="457.2 495.3 533.4 571.5 609.6 647.7">新規陽性者数</text>
<rect x="52.8" y="69.8" width="21.4" height="21.3" fill="#FEBE24" stroke="#000" stroke-opacity="0.35" stroke-width="0.8"/>
<text class="d" font-size="12" y="84.8" x="90.95 98.45" stroke="#fff" stroke-width="0.3">10</text>
<text class="k" font-size="14.2" y="85.2" x="108.17 123.32 138.47">歳未満</text>
<rect x="165.75" y="69.8" width="21.4" height="21.3" fill="#FFF22D" stroke="#000" stroke-opacity="0.35" stroke-width="0.8"/>
<text class="d" font-size="12" y="84.8" x="203.9 211.4" stroke="#fff" stroke-width="0.3">10</text>
<text class="k" font-size="14.2" y="85.2" x="221.12">代</text>
<rect x="248.75" y="69.8" width="21.4" height="21.3" fill="#DDFF33" stroke="#000" stroke-opacity="0.35" stroke-width="0.8"/>
<text class="d" font-size="12" y="84.8" x="286.9 294.4" stroke="#fff" stroke-width="0.3">20</text>
<text class="k" font-size="14.2" y="85.2" x="304.12">代</text>
<rect x="331.75" y="69.8" width="21.4" height="21.3" fill="#77F53A" stroke="#000" stroke-opacity="0.35" stroke-width="0.8"/>
<text class="d" font-size="12" y="84.8" x="369.9 377.4" stroke="#fff" stroke-width="0.3">30</text>
<text class="k" font-size="14.2" y="85.2" x="387.12">代</text>
<rect x="414.75" y="69.8" width="21.4" height="21.3" fill="#3CF05A" stroke="#000" stroke-opacity="0.35" stroke-width="0.8"/>
<text class="d" font-size="12" y="84.8" x="452.9 460.4" stroke="#fff" stroke-width="0.3">40</text>
<text class="k" font-size="14.2" y="85.2" x="470.12">代</text>
<rect x="497.75" y="69.8" width="21.4" height="21.3" fill="#3DEBA8" stroke="#000" stroke-opacity="0.35" stroke-width="0.8"/>
<text class="d" font-size="12" y="84.8" x="535.9 543.4" stroke="#fff" stroke-width="0.3">50</text>
<text class="k" font-size="14.2" y="85.2" x="553.13">代</text>
<rect x="580.75" y="69.8" width="21.4" height="21.3" fill="#3DCBDC" stroke="#000" stroke-opacity="0.35" stroke-width="0.8"/>
<text class="d" font-size="12" y="84.8" x="618.9 626.4" stroke="#fff" stroke-width="0.3">60</text>
<text class="k" font-size="14.2" y="85.2" x="636.13">代</text>
<rect x="663.75" y="69.8" width="21.4" height="21.3" fill="#3B78D2" stroke="#000" stroke-opacity="0.35" stroke-width="0.8"/>
<text class="d" font-size="12" y="84.8" x="701.9 709.4" stroke="#fff" stroke-width="0.3">70</text>
<text class="k" font-size="14.2" y="85.2" x="719.13">代</text>
<rect x="214.75" y="109.8" width="21.4" height="21.3" fill="#3930BE" stroke="#000" stroke-opacity="0.35" stroke-width="0.8"/>
<text class="d" font-size="12" y="124.8" x="252.9 260.4" stroke="#fff" stroke-width="0.3">80</text>
<text class="k" font-size="14.2" y="125.2" x="270.12">代</text>
<rect x="297.75" y="109.8" width="21.4" height="21.3" fill="#6B2DA8" stroke="#000" stroke-opacity="0.35" stroke-width="0.8"/>
<text class="d" font-size="12" y="124.8" x="335.9 343.4" stroke="#fff" stroke-width="0.3">90</text>
<text class="k" font-size="14.2" y="125.2" x="353.12">代</text>
<rect x="380.75" y="109.8" width="21.4" height="21.3" fill="#8E2A8E" stroke="#000" stroke-opacity="0.35" stroke-width="0.8"/>
<text class="d" font-size="12" y="124.8" x="418.9 426.4 433.9" stroke="#fff" stroke-width="0.3">100</text>
<text class="k" font-size="14.2" y="125.2" x="443.62 458.78 473.93">歳以上</text>
<rect x="500.7" y="109.8" width="21.4" height="21.3" fill="#75204A" stroke="#000" stroke-opacity="0.35" stroke-width="0.8"/>
<text class="k" font-size="14.2" y="125.2" x="542.58 557.73">不明</text>
<text class="d" font-size="19" y="549.3" x="62.1">0</text>
<text class="d" font-size="19" y="455.73" x="40.1 51.1 62.1">140</text>
<text class="d" font-size="19" y="363.16" x="40.1 51.1 62.1">280</text>
<text class="d" font-size="19" y="270.6" x="40.1 51.1 62.1">420</text>
<text class="d" font-size="19" y="178.03" x="40.1 51.1 62.1">560</text>
<text class="d" font-size="19" y="576.1" x="148.19 159.19 170.19 181.19">2/24</text>
<text class="d" font-size="19" y="576.1" x="189.13 200.13 211.13 222.13">3/15</text>
<text class="d" font-size="19" y="576.1" x="235.57 246.57 257.57">4/4</text>
<text class="d" font-size="19" y="576.1" x="271.01 282.01 293.01 304.01">4/24</text>
<text class="d" font-size="19" y="576.1" x="311.95 322.95 333.95 344.95">5/14</text>
<text class="d" font-size="19" y="576.1" x="358.39 369.39 380.39">6/3</text>
<text class="d" font-size="19" y="576.1" x="393.83 404.83 415.83 426.83">6/23</text>
<text class="d" font-size="19" y="576.1" x="434.77 445.77 456.77 467.77">7/13</text>
<text class="d" font-size="19" y="576.1" x="481.21 492.21 503.21">8/2</text>
<text class="d" font-size="19" y="576.1" x="516.65 527.65 538.65 549.65">8/22</text>
<text class="d" font-size="19" y="576.1" x="557.59 568.59 579.59 590.59">9/11</text>
<text class="d" font-size="19" y="576.1" x="598.53 609.53 620.53 631.53">10/1</text>
<text class="d" font-size="19" y="576.1" x="633.97 644.97 655.97 666.97 677.97">10/21</text>
<text class="d" font-size="19" y="576.1" x="674.91 685.91 696.91 707.91 718.91">11/10</text>
<text class="d" font-size="19" y="576.1" x="739.78 750.78 761.78 772.78">12/9</text>
</svg></body></html>
